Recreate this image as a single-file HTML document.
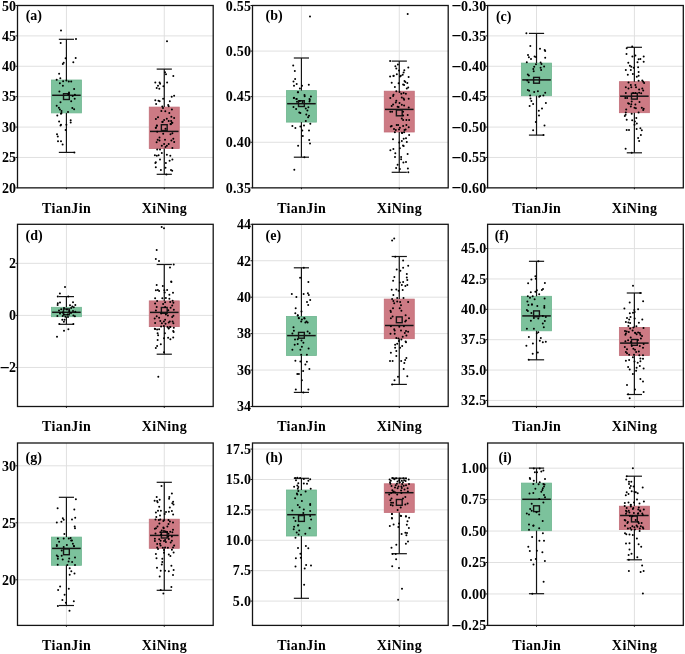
<!DOCTYPE html><html><head><meta charset="utf-8"><style>html,body{margin:0;padding:0;background:#fff;}svg{display:block;will-change:transform;}</style></head><body>
<svg width="685" height="654" viewBox="0 0 685 654" font-family='"Liberation Serif", serif' font-weight="bold">
<g><line x1="17.50" y1="157.46" x2="213.20" y2="157.46" stroke="#e0e0e0" stroke-width="1"/><line x1="17.50" y1="127.07" x2="213.20" y2="127.07" stroke="#e0e0e0" stroke-width="1"/><line x1="17.50" y1="96.67" x2="213.20" y2="96.67" stroke="#e0e0e0" stroke-width="1"/><line x1="17.50" y1="66.28" x2="213.20" y2="66.28" stroke="#e0e0e0" stroke-width="1"/><line x1="17.50" y1="35.89" x2="213.20" y2="35.89" stroke="#e0e0e0" stroke-width="1"/><line x1="66.42" y1="5.50" x2="66.42" y2="187.85" stroke="#e0e0e0" stroke-width="1"/><line x1="164.27" y1="5.50" x2="164.27" y2="187.85" stroke="#e0e0e0" stroke-width="1"/><rect x="51.42" y="80.00" width="30.00" height="32.90" fill="#7cc29c" stroke="#6fb690" stroke-width="0.8"/><line x1="66.42" y1="39.30" x2="66.42" y2="80.00" stroke="#141414" stroke-width="1.2"/><line x1="66.42" y1="112.90" x2="66.42" y2="152.40" stroke="#141414" stroke-width="1.2"/><line x1="58.82" y1="39.30" x2="74.02" y2="39.30" stroke="#141414" stroke-width="1.2"/><line x1="58.82" y1="152.40" x2="74.02" y2="152.40" stroke="#141414" stroke-width="1.2"/><line x1="52.12" y1="95.30" x2="80.72" y2="95.30" stroke="#141414" stroke-width="1.5"/><rect x="63.52" y="93.70" width="5.8" height="5.8" fill="none" stroke="#141414" stroke-width="1.4"/><g fill="#000"><circle cx="72.7" cy="96.0" r="1.0"/><circle cx="68.3" cy="94.3" r="1.0"/><circle cx="61.0" cy="30.5" r="1.0"/><circle cx="76.0" cy="39.1" r="1.0"/><circle cx="60.7" cy="42.9" r="1.0"/><circle cx="65.6" cy="58.2" r="1.0"/><circle cx="75.7" cy="58.1" r="1.0"/><circle cx="73.3" cy="62.2" r="1.0"/><circle cx="63.7" cy="62.7" r="1.0"/><circle cx="62.8" cy="64.1" r="1.0"/><circle cx="59.1" cy="73.7" r="1.0"/><circle cx="60.3" cy="78.2" r="1.0"/><circle cx="56.7" cy="79.8" r="1.0"/><circle cx="63.1" cy="81.2" r="1.0"/><circle cx="66.4" cy="80.4" r="1.0"/><circle cx="68.8" cy="81.4" r="1.0"/><circle cx="71.2" cy="81.4" r="1.0"/><circle cx="59.9" cy="83.3" r="1.0"/><circle cx="62.9" cy="85.7" r="1.0"/><circle cx="74.1" cy="88.9" r="1.0"/><circle cx="59.4" cy="91.4" r="1.0"/><circle cx="69.0" cy="92.4" r="1.0"/><circle cx="74.9" cy="94.8" r="1.0"/><circle cx="74.7" cy="98.8" r="1.0"/><circle cx="71.2" cy="101.3" r="1.0"/><circle cx="60.5" cy="102.3" r="1.0"/><circle cx="56.7" cy="105.8" r="1.0"/><circle cx="58.9" cy="107.7" r="1.0"/><circle cx="59.9" cy="109.5" r="1.0"/><circle cx="72.3" cy="108.0" r="1.0"/><circle cx="74.1" cy="109.3" r="1.0"/><circle cx="61.5" cy="111.1" r="1.0"/><circle cx="68.0" cy="112.0" r="1.0"/><circle cx="61.5" cy="113.0" r="1.0"/><circle cx="61.0" cy="113.8" r="1.0"/><circle cx="57.3" cy="115.4" r="1.0"/><circle cx="70.7" cy="120.2" r="1.0"/><circle cx="70.7" cy="122.5" r="1.0"/><circle cx="59.1" cy="121.4" r="1.0"/><circle cx="61.0" cy="124.8" r="1.0"/><circle cx="60.5" cy="125.4" r="1.0"/><circle cx="66.4" cy="124.8" r="1.0"/><circle cx="65.6" cy="129.9" r="1.0"/><circle cx="57.0" cy="134.3" r="1.0"/><circle cx="57.8" cy="136.4" r="1.0"/><circle cx="58.0" cy="141.2" r="1.0"/><circle cx="61.0" cy="141.2" r="1.0"/><circle cx="62.6" cy="144.4" r="1.0"/><circle cx="74.4" cy="152.4" r="1.0"/></g><rect x="149.27" y="107.10" width="30.00" height="41.40" fill="#cd7a84" stroke="#c26d78" stroke-width="0.8"/><line x1="164.27" y1="69.10" x2="164.27" y2="107.10" stroke="#141414" stroke-width="1.2"/><line x1="164.27" y1="148.50" x2="164.27" y2="174.30" stroke="#141414" stroke-width="1.2"/><line x1="156.67" y1="69.10" x2="171.87" y2="69.10" stroke="#141414" stroke-width="1.2"/><line x1="156.67" y1="174.30" x2="171.87" y2="174.30" stroke="#141414" stroke-width="1.2"/><line x1="149.97" y1="131.40" x2="178.57" y2="131.40" stroke="#141414" stroke-width="1.5"/><rect x="161.37" y="124.70" width="5.8" height="5.8" fill="none" stroke="#141414" stroke-width="1.4"/><g fill="#000"><circle cx="167.0" cy="41.2" r="1.0"/><circle cx="165.0" cy="72.3" r="1.0"/><circle cx="166.0" cy="74.3" r="1.0"/><circle cx="173.3" cy="76.1" r="1.0"/><circle cx="155.3" cy="82.5" r="1.0"/><circle cx="159.6" cy="82.5" r="1.0"/><circle cx="160.1" cy="83.8" r="1.0"/><circle cx="167.1" cy="82.5" r="1.0"/><circle cx="158.0" cy="85.7" r="1.0"/><circle cx="163.4" cy="86.3" r="1.0"/><circle cx="156.7" cy="88.1" r="1.0"/><circle cx="159.3" cy="88.7" r="1.0"/><circle cx="174.1" cy="95.7" r="1.0"/><circle cx="171.7" cy="96.7" r="1.0"/><circle cx="155.3" cy="100.2" r="1.0"/><circle cx="158.5" cy="100.7" r="1.0"/><circle cx="159.6" cy="101.3" r="1.0"/><circle cx="163.1" cy="98.8" r="1.0"/><circle cx="169.8" cy="101.3" r="1.0"/><circle cx="156.1" cy="103.9" r="1.0"/><circle cx="168.2" cy="105.0" r="1.0"/><circle cx="162.3" cy="106.6" r="1.0"/><circle cx="168.7" cy="106.3" r="1.0"/><circle cx="163.0" cy="108.0" r="1.0"/><circle cx="171.9" cy="109.5" r="1.0"/><circle cx="161.4" cy="110.9" r="1.0"/><circle cx="165.3" cy="111.2" r="1.0"/><circle cx="169.3" cy="113.1" r="1.0"/><circle cx="158.0" cy="117.3" r="1.0"/><circle cx="155.9" cy="119.0" r="1.0"/><circle cx="171.4" cy="116.8" r="1.0"/><circle cx="174.1" cy="117.9" r="1.0"/><circle cx="166.8" cy="118.7" r="1.0"/><circle cx="164.1" cy="120.0" r="1.0"/><circle cx="168.7" cy="121.1" r="1.0"/><circle cx="171.1" cy="120.9" r="1.0"/><circle cx="162.3" cy="122.0" r="1.0"/><circle cx="171.9" cy="122.7" r="1.0"/><circle cx="170.9" cy="124.3" r="1.0"/><circle cx="156.9" cy="125.4" r="1.0"/><circle cx="155.9" cy="127.7" r="1.0"/><circle cx="162.7" cy="121.8" r="1.0"/><circle cx="172.4" cy="122.8" r="1.0"/><circle cx="170.5" cy="124.1" r="1.0"/><circle cx="156.8" cy="125.7" r="1.0"/><circle cx="155.8" cy="127.8" r="1.0"/><circle cx="165.5" cy="128.7" r="1.0"/><circle cx="157.2" cy="131.7" r="1.0"/><circle cx="163.2" cy="133.8" r="1.0"/><circle cx="170.5" cy="134.2" r="1.0"/><circle cx="172.4" cy="133.3" r="1.0"/><circle cx="159.5" cy="137.4" r="1.0"/><circle cx="157.7" cy="139.7" r="1.0"/><circle cx="159.5" cy="140.6" r="1.0"/><circle cx="165.0" cy="139.7" r="1.0"/><circle cx="173.3" cy="138.8" r="1.0"/><circle cx="171.4" cy="140.6" r="1.0"/><circle cx="174.2" cy="142.0" r="1.0"/><circle cx="156.6" cy="142.2" r="1.0"/><circle cx="164.1" cy="143.9" r="1.0"/><circle cx="168.7" cy="143.9" r="1.0"/><circle cx="161.8" cy="145.7" r="1.0"/><circle cx="166.9" cy="145.7" r="1.0"/><circle cx="165.5" cy="147.1" r="1.0"/><circle cx="172.4" cy="148.0" r="1.0"/><circle cx="157.2" cy="149.4" r="1.0"/><circle cx="160.0" cy="149.4" r="1.0"/><circle cx="161.8" cy="153.0" r="1.0"/><circle cx="158.6" cy="155.3" r="1.0"/><circle cx="154.9" cy="155.3" r="1.0"/><circle cx="156.8" cy="155.8" r="1.0"/><circle cx="166.9" cy="154.7" r="1.0"/><circle cx="170.3" cy="155.8" r="1.0"/><circle cx="160.0" cy="159.4" r="1.0"/><circle cx="169.6" cy="160.8" r="1.0"/><circle cx="172.4" cy="159.4" r="1.0"/><circle cx="155.8" cy="162.2" r="1.0"/><circle cx="155.4" cy="163.1" r="1.0"/><circle cx="165.9" cy="163.1" r="1.0"/><circle cx="155.8" cy="167.2" r="1.0"/><circle cx="165.5" cy="167.7" r="1.0"/><circle cx="160.9" cy="170.0" r="1.0"/><circle cx="171.0" cy="170.0" r="1.0"/><circle cx="172.2" cy="170.7" r="1.0"/><circle cx="166.4" cy="174.6" r="1.0"/></g><rect x="17.50" y="5.50" width="195.70" height="182.35" fill="none" stroke="#141414" stroke-width="1.3"/><line x1="66.42" y1="187.85" x2="66.42" y2="189.25" stroke="#141414" stroke-width="1"/><line x1="164.27" y1="187.85" x2="164.27" y2="189.25" stroke="#141414" stroke-width="1"/><line x1="15.50" y1="187.85" x2="17.50" y2="187.85" stroke="#141414" stroke-width="1"/><text x="16.10" y="192.65" font-size="14" text-anchor="end">20</text><line x1="15.50" y1="157.46" x2="17.50" y2="157.46" stroke="#141414" stroke-width="1"/><text x="16.10" y="162.26" font-size="14" text-anchor="end">25</text><line x1="15.50" y1="127.07" x2="17.50" y2="127.07" stroke="#141414" stroke-width="1"/><text x="16.10" y="131.87" font-size="14" text-anchor="end">30</text><line x1="15.50" y1="96.67" x2="17.50" y2="96.67" stroke="#141414" stroke-width="1"/><text x="16.10" y="101.47" font-size="14" text-anchor="end">35</text><line x1="15.50" y1="66.28" x2="17.50" y2="66.28" stroke="#141414" stroke-width="1"/><text x="16.10" y="71.08" font-size="14" text-anchor="end">40</text><line x1="15.50" y1="35.89" x2="17.50" y2="35.89" stroke="#141414" stroke-width="1"/><text x="16.10" y="40.69" font-size="14" text-anchor="end">45</text><line x1="15.50" y1="5.50" x2="17.50" y2="5.50" stroke="#141414" stroke-width="1"/><text x="16.10" y="10.80" font-size="14" text-anchor="end">50</text><text x="25.70" y="19.70" font-size="14">(a)</text><text x="66.42" y="212.65" font-size="14" text-anchor="middle" textLength="48.6" lengthAdjust="spacing">TianJin</text><text x="164.27" y="212.65" font-size="14" text-anchor="middle" textLength="45.2" lengthAdjust="spacing">XiNing</text></g>
<g><line x1="252.50" y1="142.26" x2="448.20" y2="142.26" stroke="#e0e0e0" stroke-width="1"/><line x1="252.50" y1="96.67" x2="448.20" y2="96.67" stroke="#e0e0e0" stroke-width="1"/><line x1="252.50" y1="51.09" x2="448.20" y2="51.09" stroke="#e0e0e0" stroke-width="1"/><line x1="301.43" y1="5.50" x2="301.43" y2="187.85" stroke="#e0e0e0" stroke-width="1"/><line x1="399.27" y1="5.50" x2="399.27" y2="187.85" stroke="#e0e0e0" stroke-width="1"/><rect x="286.43" y="90.60" width="30.00" height="31.50" fill="#7cc29c" stroke="#6fb690" stroke-width="0.8"/><line x1="301.43" y1="58.00" x2="301.43" y2="90.60" stroke="#141414" stroke-width="1.2"/><line x1="301.43" y1="122.10" x2="301.43" y2="157.20" stroke="#141414" stroke-width="1.2"/><line x1="293.82" y1="58.00" x2="309.03" y2="58.00" stroke="#141414" stroke-width="1.2"/><line x1="293.82" y1="157.20" x2="309.03" y2="157.20" stroke="#141414" stroke-width="1.2"/><line x1="287.12" y1="103.70" x2="315.73" y2="103.70" stroke="#141414" stroke-width="1.5"/><rect x="298.53" y="100.70" width="5.8" height="5.8" fill="none" stroke="#141414" stroke-width="1.4"/><g fill="#000"><circle cx="297.8" cy="92.2" r="1.0"/><circle cx="293.8" cy="97.9" r="1.0"/><circle cx="296.4" cy="99.0" r="1.0"/><circle cx="309.5" cy="99.0" r="1.0"/><circle cx="297.0" cy="101.7" r="1.0"/><circle cx="299.9" cy="101.1" r="1.0"/><circle cx="310.0" cy="16.5" r="1.0"/><circle cx="293.2" cy="65.4" r="1.0"/><circle cx="294.8" cy="71.0" r="1.0"/><circle cx="295.1" cy="79.1" r="1.0"/><circle cx="293.5" cy="81.5" r="1.0"/><circle cx="296.7" cy="83.9" r="1.0"/><circle cx="294.0" cy="85.8" r="1.0"/><circle cx="302.0" cy="85.8" r="1.0"/><circle cx="308.8" cy="84.8" r="1.0"/><circle cx="299.9" cy="88.4" r="1.0"/><circle cx="298.1" cy="92.2" r="1.0"/><circle cx="304.5" cy="95.1" r="1.0"/><circle cx="304.7" cy="96.2" r="1.0"/><circle cx="310.9" cy="96.4" r="1.0"/><circle cx="294.0" cy="97.8" r="1.0"/><circle cx="296.7" cy="98.9" r="1.0"/><circle cx="309.8" cy="100.0" r="1.0"/><circle cx="309.5" cy="101.6" r="1.0"/><circle cx="302.6" cy="101.9" r="1.0"/><circle cx="293.5" cy="106.9" r="1.0"/><circle cx="308.4" cy="107.2" r="1.0"/><circle cx="305.8" cy="108.5" r="1.0"/><circle cx="296.1" cy="109.1" r="1.0"/><circle cx="307.4" cy="110.6" r="1.0"/><circle cx="299.3" cy="112.5" r="1.0"/><circle cx="300.4" cy="113.0" r="1.0"/><circle cx="306.3" cy="114.4" r="1.0"/><circle cx="309.0" cy="115.7" r="1.0"/><circle cx="308.1" cy="117.3" r="1.0"/><circle cx="305.8" cy="121.1" r="1.0"/><circle cx="310.3" cy="123.7" r="1.0"/><circle cx="292.4" cy="125.9" r="1.0"/><circle cx="295.4" cy="128.0" r="1.0"/><circle cx="300.4" cy="126.4" r="1.0"/><circle cx="304.0" cy="125.6" r="1.0"/><circle cx="302.3" cy="130.4" r="1.0"/><circle cx="309.0" cy="130.4" r="1.0"/><circle cx="302.8" cy="136.0" r="1.0"/><circle cx="309.2" cy="140.1" r="1.0"/><circle cx="310.0" cy="143.5" r="1.0"/><circle cx="298.1" cy="145.7" r="1.0"/><circle cx="304.4" cy="157.2" r="1.0"/><circle cx="294.3" cy="169.8" r="1.0"/></g><rect x="384.27" y="91.20" width="30.00" height="40.80" fill="#cd7a84" stroke="#c26d78" stroke-width="0.8"/><line x1="399.27" y1="61.10" x2="399.27" y2="91.20" stroke="#141414" stroke-width="1.2"/><line x1="399.27" y1="132.00" x2="399.27" y2="172.30" stroke="#141414" stroke-width="1.2"/><line x1="391.67" y1="61.10" x2="406.88" y2="61.10" stroke="#141414" stroke-width="1.2"/><line x1="391.67" y1="172.30" x2="406.88" y2="172.30" stroke="#141414" stroke-width="1.2"/><line x1="384.97" y1="109.40" x2="413.57" y2="109.40" stroke="#141414" stroke-width="1.5"/><rect x="396.38" y="110.00" width="5.8" height="5.8" fill="none" stroke="#141414" stroke-width="1.4"/><g fill="#000"><circle cx="407.7" cy="14.0" r="1.0"/><circle cx="390.1" cy="61.1" r="1.0"/><circle cx="397.9" cy="64.4" r="1.0"/><circle cx="395.4" cy="66.2" r="1.0"/><circle cx="396.3" cy="68.4" r="1.0"/><circle cx="408.3" cy="67.6" r="1.0"/><circle cx="399.0" cy="70.5" r="1.0"/><circle cx="404.3" cy="70.2" r="1.0"/><circle cx="403.6" cy="72.6" r="1.0"/><circle cx="402.7" cy="74.8" r="1.0"/><circle cx="396.8" cy="74.2" r="1.0"/><circle cx="393.6" cy="75.8" r="1.0"/><circle cx="390.1" cy="76.6" r="1.0"/><circle cx="400.0" cy="76.4" r="1.0"/><circle cx="408.6" cy="76.9" r="1.0"/><circle cx="393.5" cy="75.9" r="1.0"/><circle cx="400.9" cy="75.7" r="1.0"/><circle cx="391.7" cy="82.8" r="1.0"/><circle cx="398.6" cy="83.3" r="1.0"/><circle cx="404.5" cy="81.0" r="1.0"/><circle cx="405.4" cy="81.9" r="1.0"/><circle cx="407.3" cy="83.1" r="1.0"/><circle cx="403.1" cy="84.6" r="1.0"/><circle cx="404.1" cy="85.1" r="1.0"/><circle cx="394.9" cy="86.9" r="1.0"/><circle cx="408.2" cy="87.4" r="1.0"/><circle cx="406.8" cy="88.6" r="1.0"/><circle cx="396.3" cy="91.3" r="1.0"/><circle cx="399.5" cy="92.0" r="1.0"/><circle cx="401.3" cy="93.8" r="1.0"/><circle cx="403.6" cy="92.9" r="1.0"/><circle cx="405.9" cy="93.8" r="1.0"/><circle cx="393.5" cy="94.7" r="1.0"/><circle cx="393.1" cy="96.1" r="1.0"/><circle cx="390.3" cy="97.9" r="1.0"/><circle cx="401.8" cy="97.5" r="1.0"/><circle cx="403.6" cy="98.4" r="1.0"/><circle cx="404.1" cy="99.8" r="1.0"/><circle cx="408.7" cy="98.7" r="1.0"/><circle cx="396.3" cy="100.7" r="1.0"/><circle cx="395.8" cy="102.5" r="1.0"/><circle cx="399.5" cy="103.0" r="1.0"/><circle cx="401.8" cy="104.8" r="1.0"/><circle cx="404.1" cy="105.5" r="1.0"/><circle cx="393.1" cy="104.4" r="1.0"/><circle cx="391.7" cy="106.0" r="1.0"/><circle cx="397.6" cy="106.7" r="1.0"/><circle cx="398.6" cy="107.1" r="1.0"/><circle cx="408.7" cy="107.6" r="1.0"/><circle cx="390.3" cy="111.7" r="1.0"/><circle cx="392.1" cy="111.7" r="1.0"/><circle cx="403.1" cy="111.7" r="1.0"/><circle cx="403.1" cy="115.4" r="1.0"/><circle cx="407.7" cy="114.9" r="1.0"/><circle cx="401.8" cy="118.6" r="1.0"/><circle cx="403.1" cy="120.0" r="1.0"/><circle cx="406.4" cy="120.1" r="1.0"/><circle cx="409.1" cy="120.1" r="1.0"/><circle cx="390.8" cy="126.4" r="1.0"/><circle cx="391.7" cy="125.9" r="1.0"/><circle cx="396.7" cy="125.0" r="1.0"/><circle cx="398.1" cy="125.0" r="1.0"/><circle cx="403.1" cy="125.9" r="1.0"/><circle cx="406.4" cy="125.0" r="1.0"/><circle cx="408.7" cy="127.3" r="1.0"/><circle cx="399.9" cy="127.8" r="1.0"/><circle cx="394.0" cy="129.1" r="1.0"/><circle cx="395.8" cy="129.9" r="1.0"/><circle cx="399.0" cy="129.6" r="1.0"/><circle cx="404.5" cy="130.0" r="1.0"/><circle cx="394.9" cy="132.3" r="1.0"/><circle cx="401.8" cy="132.8" r="1.0"/><circle cx="405.6" cy="129.5" r="1.0"/><circle cx="402.2" cy="133.0" r="1.0"/><circle cx="404.1" cy="132.2" r="1.0"/><circle cx="409.1" cy="134.9" r="1.0"/><circle cx="393.0" cy="139.3" r="1.0"/><circle cx="403.7" cy="138.7" r="1.0"/><circle cx="406.0" cy="138.3" r="1.0"/><circle cx="401.8" cy="141.1" r="1.0"/><circle cx="406.8" cy="142.1" r="1.0"/><circle cx="399.2" cy="142.4" r="1.0"/><circle cx="403.0" cy="145.6" r="1.0"/><circle cx="403.7" cy="146.0" r="1.0"/><circle cx="399.9" cy="148.2" r="1.0"/><circle cx="390.4" cy="150.2" r="1.0"/><circle cx="393.4" cy="149.0" r="1.0"/><circle cx="395.3" cy="153.2" r="1.0"/><circle cx="407.6" cy="154.0" r="1.0"/><circle cx="395.0" cy="157.0" r="1.0"/><circle cx="401.1" cy="157.0" r="1.0"/><circle cx="401.1" cy="159.3" r="1.0"/><circle cx="403.4" cy="162.4" r="1.0"/><circle cx="406.0" cy="162.0" r="1.0"/><circle cx="397.6" cy="164.7" r="1.0"/><circle cx="396.1" cy="168.1" r="1.0"/><circle cx="399.9" cy="168.9" r="1.0"/><circle cx="407.9" cy="168.6" r="1.0"/><circle cx="408.3" cy="172.3" r="1.0"/></g><rect x="252.50" y="5.50" width="195.70" height="182.35" fill="none" stroke="#141414" stroke-width="1.3"/><line x1="301.43" y1="187.85" x2="301.43" y2="189.25" stroke="#141414" stroke-width="1"/><line x1="399.27" y1="187.85" x2="399.27" y2="189.25" stroke="#141414" stroke-width="1"/><line x1="250.50" y1="187.85" x2="252.50" y2="187.85" stroke="#141414" stroke-width="1"/><text x="251.10" y="192.65" font-size="14" text-anchor="end" textLength="25.30" lengthAdjust="spacing">0.35</text><line x1="250.50" y1="142.26" x2="252.50" y2="142.26" stroke="#141414" stroke-width="1"/><text x="251.10" y="147.06" font-size="14" text-anchor="end" textLength="25.30" lengthAdjust="spacing">0.40</text><line x1="250.50" y1="96.67" x2="252.50" y2="96.67" stroke="#141414" stroke-width="1"/><text x="251.10" y="101.47" font-size="14" text-anchor="end" textLength="25.30" lengthAdjust="spacing">0.45</text><line x1="250.50" y1="51.09" x2="252.50" y2="51.09" stroke="#141414" stroke-width="1"/><text x="251.10" y="55.89" font-size="14" text-anchor="end" textLength="25.30" lengthAdjust="spacing">0.50</text><line x1="250.50" y1="5.50" x2="252.50" y2="5.50" stroke="#141414" stroke-width="1"/><text x="251.10" y="10.80" font-size="14" text-anchor="end" textLength="25.30" lengthAdjust="spacing">0.55</text><text x="265.50" y="19.70" font-size="14">(b)</text><text x="301.43" y="212.65" font-size="14" text-anchor="middle" textLength="48.6" lengthAdjust="spacing">TianJin</text><text x="399.27" y="212.65" font-size="14" text-anchor="middle" textLength="45.2" lengthAdjust="spacing">XiNing</text></g>
<g><line x1="487.60" y1="157.46" x2="683.30" y2="157.46" stroke="#e0e0e0" stroke-width="1"/><line x1="487.60" y1="127.07" x2="683.30" y2="127.07" stroke="#e0e0e0" stroke-width="1"/><line x1="487.60" y1="96.68" x2="683.30" y2="96.68" stroke="#e0e0e0" stroke-width="1"/><line x1="487.60" y1="66.28" x2="683.30" y2="66.28" stroke="#e0e0e0" stroke-width="1"/><line x1="487.60" y1="35.89" x2="683.30" y2="35.89" stroke="#e0e0e0" stroke-width="1"/><line x1="536.52" y1="5.50" x2="536.52" y2="187.85" stroke="#e0e0e0" stroke-width="1"/><line x1="634.38" y1="5.50" x2="634.38" y2="187.85" stroke="#e0e0e0" stroke-width="1"/><rect x="521.52" y="63.10" width="30.00" height="32.60" fill="#7cc29c" stroke="#6fb690" stroke-width="0.8"/><line x1="536.52" y1="33.40" x2="536.52" y2="63.10" stroke="#141414" stroke-width="1.2"/><line x1="536.52" y1="95.70" x2="536.52" y2="135.10" stroke="#141414" stroke-width="1.2"/><line x1="528.92" y1="33.40" x2="544.12" y2="33.40" stroke="#141414" stroke-width="1.2"/><line x1="528.92" y1="135.10" x2="544.12" y2="135.10" stroke="#141414" stroke-width="1.2"/><line x1="522.23" y1="79.90" x2="550.82" y2="79.90" stroke="#141414" stroke-width="1.5"/><rect x="533.62" y="77.40" width="5.8" height="5.8" fill="none" stroke="#141414" stroke-width="1.4"/><g fill="#000"><circle cx="526.4" cy="33.3" r="1.0"/><circle cx="530.3" cy="45.9" r="1.0"/><circle cx="540.0" cy="48.7" r="1.0"/><circle cx="544.7" cy="50.0" r="1.0"/><circle cx="545.2" cy="50.9" r="1.0"/><circle cx="528.0" cy="55.1" r="1.0"/><circle cx="528.9" cy="57.3" r="1.0"/><circle cx="531.0" cy="59.1" r="1.0"/><circle cx="534.6" cy="56.4" r="1.0"/><circle cx="536.0" cy="57.1" r="1.0"/><circle cx="545.2" cy="57.8" r="1.0"/><circle cx="526.8" cy="62.2" r="1.0"/><circle cx="540.6" cy="62.6" r="1.0"/><circle cx="541.5" cy="64.0" r="1.0"/><circle cx="536.0" cy="64.3" r="1.0"/><circle cx="534.2" cy="66.7" r="1.0"/><circle cx="533.3" cy="69.0" r="1.0"/><circle cx="533.7" cy="71.3" r="1.0"/><circle cx="540.6" cy="67.7" r="1.0"/><circle cx="541.1" cy="70.0" r="1.0"/><circle cx="544.1" cy="66.5" r="1.0"/><circle cx="527.8" cy="74.5" r="1.0"/><circle cx="528.9" cy="75.5" r="1.0"/><circle cx="527.3" cy="80.5" r="1.0"/><circle cx="528.7" cy="82.3" r="1.0"/><circle cx="527.8" cy="89.9" r="1.0"/><circle cx="529.1" cy="90.8" r="1.0"/><circle cx="534.2" cy="91.9" r="1.0"/><circle cx="537.9" cy="91.3" r="1.0"/><circle cx="545.2" cy="92.7" r="1.0"/><circle cx="530.1" cy="95.4" r="1.0"/><circle cx="530.5" cy="98.4" r="1.0"/><circle cx="531.4" cy="101.1" r="1.0"/><circle cx="539.2" cy="96.8" r="1.0"/><circle cx="540.1" cy="95.9" r="1.0"/><circle cx="543.4" cy="95.6" r="1.0"/><circle cx="545.9" cy="103.0" r="1.0"/><circle cx="533.1" cy="104.1" r="1.0"/><circle cx="529.6" cy="106.0" r="1.0"/><circle cx="542.0" cy="108.5" r="1.0"/><circle cx="538.8" cy="110.8" r="1.0"/><circle cx="539.0" cy="115.6" r="1.0"/><circle cx="535.8" cy="122.0" r="1.0"/><circle cx="544.5" cy="125.5" r="1.0"/><circle cx="533.1" cy="130.3" r="1.0"/><circle cx="543.5" cy="135.1" r="1.0"/></g><rect x="619.38" y="81.70" width="30.00" height="31.00" fill="#cd7a84" stroke="#c26d78" stroke-width="0.8"/><line x1="634.38" y1="47.30" x2="634.38" y2="81.70" stroke="#141414" stroke-width="1.2"/><line x1="634.38" y1="112.70" x2="634.38" y2="152.80" stroke="#141414" stroke-width="1.2"/><line x1="626.77" y1="47.30" x2="641.98" y2="47.30" stroke="#141414" stroke-width="1.2"/><line x1="626.77" y1="152.80" x2="641.98" y2="152.80" stroke="#141414" stroke-width="1.2"/><line x1="620.08" y1="96.20" x2="648.67" y2="96.20" stroke="#141414" stroke-width="1.5"/><rect x="631.48" y="93.30" width="5.8" height="5.8" fill="none" stroke="#141414" stroke-width="1.4"/><g fill="#000"><circle cx="626.7" cy="48.3" r="1.0"/><circle cx="632.2" cy="46.6" r="1.0"/><circle cx="626.5" cy="53.9" r="1.0"/><circle cx="632.4" cy="56.5" r="1.0"/><circle cx="635.4" cy="55.4" r="1.0"/><circle cx="643.7" cy="56.5" r="1.0"/><circle cx="638.6" cy="59.3" r="1.0"/><circle cx="640.4" cy="59.1" r="1.0"/><circle cx="643.7" cy="61.7" r="1.0"/><circle cx="628.3" cy="62.8" r="1.0"/><circle cx="637.5" cy="62.2" r="1.0"/><circle cx="629.9" cy="65.7" r="1.0"/><circle cx="631.3" cy="66.8" r="1.0"/><circle cx="633.7" cy="67.7" r="1.0"/><circle cx="638.1" cy="67.3" r="1.0"/><circle cx="625.8" cy="70.1" r="1.0"/><circle cx="630.8" cy="70.1" r="1.0"/><circle cx="638.6" cy="72.1" r="1.0"/><circle cx="627.8" cy="74.7" r="1.0"/><circle cx="632.9" cy="73.9" r="1.0"/><circle cx="636.8" cy="76.7" r="1.0"/><circle cx="638.6" cy="75.8" r="1.0"/><circle cx="638.6" cy="80.8" r="1.0"/><circle cx="642.3" cy="80.4" r="1.0"/><circle cx="643.2" cy="81.7" r="1.0"/><circle cx="644.1" cy="83.1" r="1.0"/><circle cx="628.5" cy="82.4" r="1.0"/><circle cx="630.8" cy="85.0" r="1.0"/><circle cx="631.3" cy="87.2" r="1.0"/><circle cx="635.4" cy="85.0" r="1.0"/><circle cx="636.0" cy="87.2" r="1.0"/><circle cx="625.8" cy="87.2" r="1.0"/><circle cx="628.5" cy="88.6" r="1.0"/><circle cx="639.1" cy="89.5" r="1.0"/><circle cx="642.3" cy="88.6" r="1.0"/><circle cx="643.2" cy="90.5" r="1.0"/><circle cx="625.8" cy="93.0" r="1.0"/><circle cx="633.1" cy="93.0" r="1.0"/><circle cx="635.4" cy="93.0" r="1.0"/><circle cx="639.1" cy="92.8" r="1.0"/><circle cx="641.2" cy="93.2" r="1.0"/><circle cx="625.3" cy="98.0" r="1.0"/><circle cx="627.1" cy="98.0" r="1.0"/><circle cx="639.5" cy="101.9" r="1.0"/><circle cx="631.7" cy="101.4" r="1.0"/><circle cx="628.1" cy="103.3" r="1.0"/><circle cx="629.0" cy="103.7" r="1.0"/><circle cx="631.3" cy="104.2" r="1.0"/><circle cx="635.4" cy="104.6" r="1.0"/><circle cx="630.8" cy="106.5" r="1.0"/><circle cx="634.5" cy="107.7" r="1.0"/><circle cx="635.9" cy="108.3" r="1.0"/><circle cx="641.8" cy="107.8" r="1.0"/><circle cx="643.7" cy="108.8" r="1.0"/><circle cx="643.2" cy="110.1" r="1.0"/><circle cx="626.2" cy="109.5" r="1.0"/><circle cx="625.8" cy="112.4" r="1.0"/><circle cx="631.7" cy="113.8" r="1.0"/><circle cx="638.6" cy="112.6" r="1.0"/><circle cx="625.6" cy="114.7" r="1.0"/><circle cx="624.8" cy="116.1" r="1.0"/><circle cx="636.3" cy="117.9" r="1.0"/><circle cx="626.7" cy="119.8" r="1.0"/><circle cx="632.2" cy="120.2" r="1.0"/><circle cx="634.9" cy="121.6" r="1.0"/><circle cx="636.8" cy="123.4" r="1.0"/><circle cx="634.5" cy="124.8" r="1.0"/><circle cx="626.7" cy="129.9" r="1.0"/><circle cx="629.0" cy="129.9" r="1.0"/><circle cx="636.6" cy="129.1" r="1.0"/><circle cx="640.4" cy="128.2" r="1.0"/><circle cx="641.8" cy="130.3" r="1.0"/><circle cx="640.9" cy="134.9" r="1.0"/><circle cx="638.1" cy="137.9" r="1.0"/><circle cx="639.1" cy="140.9" r="1.0"/><circle cx="625.6" cy="148.7" r="1.0"/><circle cx="631.7" cy="152.8" r="1.0"/></g><rect x="487.60" y="5.50" width="195.70" height="182.35" fill="none" stroke="#141414" stroke-width="1.3"/><line x1="536.52" y1="187.85" x2="536.52" y2="189.25" stroke="#141414" stroke-width="1"/><line x1="634.38" y1="187.85" x2="634.38" y2="189.25" stroke="#141414" stroke-width="1"/><line x1="485.60" y1="187.85" x2="487.60" y2="187.85" stroke="#141414" stroke-width="1"/><text x="486.20" y="192.65" font-size="14" text-anchor="end" textLength="25.30" lengthAdjust="spacing">0.60</text><rect x="452.40" y="187.00" width="8.2" height="1.25" fill="#000"/><line x1="485.60" y1="157.46" x2="487.60" y2="157.46" stroke="#141414" stroke-width="1"/><text x="486.20" y="162.26" font-size="14" text-anchor="end" textLength="25.30" lengthAdjust="spacing">0.55</text><rect x="452.40" y="157.00" width="8.2" height="1.25" fill="#000"/><line x1="485.60" y1="127.07" x2="487.60" y2="127.07" stroke="#141414" stroke-width="1"/><text x="486.20" y="131.87" font-size="14" text-anchor="end" textLength="25.30" lengthAdjust="spacing">0.50</text><rect x="452.40" y="127.00" width="8.2" height="1.25" fill="#000"/><line x1="485.60" y1="96.68" x2="487.60" y2="96.68" stroke="#141414" stroke-width="1"/><text x="486.20" y="101.48" font-size="14" text-anchor="end" textLength="25.30" lengthAdjust="spacing">0.45</text><rect x="452.40" y="96.00" width="8.2" height="1.25" fill="#000"/><line x1="485.60" y1="66.28" x2="487.60" y2="66.28" stroke="#141414" stroke-width="1"/><text x="486.20" y="71.08" font-size="14" text-anchor="end" textLength="25.30" lengthAdjust="spacing">0.40</text><rect x="452.40" y="66.00" width="8.2" height="1.25" fill="#000"/><line x1="485.60" y1="35.89" x2="487.60" y2="35.89" stroke="#141414" stroke-width="1"/><text x="486.20" y="40.69" font-size="14" text-anchor="end" textLength="25.30" lengthAdjust="spacing">0.35</text><rect x="452.40" y="35.00" width="8.2" height="1.25" fill="#000"/><line x1="485.60" y1="5.50" x2="487.60" y2="5.50" stroke="#141414" stroke-width="1"/><text x="486.20" y="10.80" font-size="14" text-anchor="end" textLength="25.30" lengthAdjust="spacing">0.30</text><rect x="452.40" y="5.00" width="8.2" height="1.25" fill="#000"/><text x="495.90" y="20.80" font-size="14">(c)</text><text x="536.52" y="212.65" font-size="14" text-anchor="middle" textLength="48.6" lengthAdjust="spacing">TianJin</text><text x="634.38" y="212.65" font-size="14" text-anchor="middle" textLength="45.2" lengthAdjust="spacing">XiNing</text></g>
<g><line x1="17.50" y1="367.46" x2="213.20" y2="367.46" stroke="#e0e0e0" stroke-width="1"/><line x1="17.50" y1="315.40" x2="213.20" y2="315.40" stroke="#e0e0e0" stroke-width="1"/><line x1="17.50" y1="263.34" x2="213.20" y2="263.34" stroke="#e0e0e0" stroke-width="1"/><line x1="66.42" y1="224.30" x2="66.42" y2="406.50" stroke="#e0e0e0" stroke-width="1"/><line x1="164.27" y1="224.30" x2="164.27" y2="406.50" stroke="#e0e0e0" stroke-width="1"/><rect x="51.42" y="307.30" width="30.00" height="9.40" fill="#7cc29c" stroke="#6fb690" stroke-width="0.8"/><line x1="66.42" y1="296.60" x2="66.42" y2="307.30" stroke="#141414" stroke-width="1.2"/><line x1="66.42" y1="316.70" x2="66.42" y2="324.30" stroke="#141414" stroke-width="1.2"/><line x1="58.82" y1="296.60" x2="74.02" y2="296.60" stroke="#141414" stroke-width="1.2"/><line x1="58.82" y1="324.30" x2="74.02" y2="324.30" stroke="#141414" stroke-width="1.2"/><line x1="52.12" y1="312.30" x2="80.72" y2="312.30" stroke="#141414" stroke-width="1.5"/><rect x="63.52" y="309.00" width="5.8" height="5.8" fill="none" stroke="#141414" stroke-width="1.4"/><g fill="#000"><circle cx="65.0" cy="286.9" r="1.0"/><circle cx="59.9" cy="293.6" r="1.0"/><circle cx="57.8" cy="296.6" r="1.0"/><circle cx="68.3" cy="296.6" r="1.0"/><circle cx="60.0" cy="302.4" r="1.0"/><circle cx="57.8" cy="303.3" r="1.0"/><circle cx="57.6" cy="305.0" r="1.0"/><circle cx="73.0" cy="302.2" r="1.0"/><circle cx="75.3" cy="305.0" r="1.0"/><circle cx="70.0" cy="305.2" r="1.0"/><circle cx="72.3" cy="306.4" r="1.0"/><circle cx="73.8" cy="307.2" r="1.0"/><circle cx="71.1" cy="307.9" r="1.0"/><circle cx="61.2" cy="309.3" r="1.0"/><circle cx="66.9" cy="309.4" r="1.0"/><circle cx="69.2" cy="311.0" r="1.0"/><circle cx="73.0" cy="311.0" r="1.0"/><circle cx="75.3" cy="311.7" r="1.0"/><circle cx="62.7" cy="312.5" r="1.0"/><circle cx="60.0" cy="313.6" r="1.0"/><circle cx="63.9" cy="314.4" r="1.0"/><circle cx="67.7" cy="314.4" r="1.0"/><circle cx="57.4" cy="315.9" r="1.0"/><circle cx="73.4" cy="315.6" r="1.0"/><circle cx="74.9" cy="316.3" r="1.0"/><circle cx="62.7" cy="315.9" r="1.0"/><circle cx="65.4" cy="316.7" r="1.0"/><circle cx="62.3" cy="319.8" r="1.0"/><circle cx="64.6" cy="319.8" r="1.0"/><circle cx="63.9" cy="321.7" r="1.0"/><circle cx="59.3" cy="324.0" r="1.0"/><circle cx="73.4" cy="324.0" r="1.0"/><circle cx="68.4" cy="329.2" r="1.0"/><circle cx="64.0" cy="330.7" r="1.0"/><circle cx="57.0" cy="336.8" r="1.0"/><circle cx="59.0" cy="310.5" r="1.0"/><circle cx="71.0" cy="313.0" r="1.0"/><circle cx="64.0" cy="308.0" r="1.0"/><circle cx="68.0" cy="317.0" r="1.0"/></g><rect x="149.27" y="300.90" width="30.00" height="25.70" fill="#cd7a84" stroke="#c26d78" stroke-width="0.8"/><line x1="164.27" y1="264.50" x2="164.27" y2="300.90" stroke="#141414" stroke-width="1.2"/><line x1="164.27" y1="326.60" x2="164.27" y2="354.20" stroke="#141414" stroke-width="1.2"/><line x1="156.67" y1="264.50" x2="171.87" y2="264.50" stroke="#141414" stroke-width="1.2"/><line x1="156.67" y1="354.20" x2="171.87" y2="354.20" stroke="#141414" stroke-width="1.2"/><line x1="149.97" y1="312.40" x2="178.57" y2="312.40" stroke="#141414" stroke-width="1.5"/><rect x="161.37" y="307.50" width="5.8" height="5.8" fill="none" stroke="#141414" stroke-width="1.4"/><g fill="#000"><circle cx="161.7" cy="227.0" r="1.0"/><circle cx="164.0" cy="228.2" r="1.0"/><circle cx="156.7" cy="250.0" r="1.0"/><circle cx="155.8" cy="259.0" r="1.0"/><circle cx="159.0" cy="261.0" r="1.0"/><circle cx="173.7" cy="264.4" r="1.0"/><circle cx="170.0" cy="267.4" r="1.0"/><circle cx="171.2" cy="281.6" r="1.0"/><circle cx="171.4" cy="282.1" r="1.0"/><circle cx="156.7" cy="285.0" r="1.0"/><circle cx="162.8" cy="286.1" r="1.0"/><circle cx="155.9" cy="290.3" r="1.0"/><circle cx="157.9" cy="289.9" r="1.0"/><circle cx="159.1" cy="291.1" r="1.0"/><circle cx="164.3" cy="290.3" r="1.0"/><circle cx="167.1" cy="290.1" r="1.0"/><circle cx="173.0" cy="292.7" r="1.0"/><circle cx="164.7" cy="292.5" r="1.0"/><circle cx="169.4" cy="294.7" r="1.0"/><circle cx="155.1" cy="298.3" r="1.0"/><circle cx="162.3" cy="298.3" r="1.0"/><circle cx="165.9" cy="297.9" r="1.0"/><circle cx="169.4" cy="298.8" r="1.0"/><circle cx="157.1" cy="301.1" r="1.0"/><circle cx="172.6" cy="300.7" r="1.0"/><circle cx="170.2" cy="301.9" r="1.0"/><circle cx="173.4" cy="302.7" r="1.0"/><circle cx="165.1" cy="302.3" r="1.0"/><circle cx="163.1" cy="303.9" r="1.0"/><circle cx="155.1" cy="303.5" r="1.0"/><circle cx="172.2" cy="305.4" r="1.0"/><circle cx="156.7" cy="307.0" r="1.0"/><circle cx="165.1" cy="307.0" r="1.0"/><circle cx="170.6" cy="307.8" r="1.0"/><circle cx="173.8" cy="309.8" r="1.0"/><circle cx="155.9" cy="310.6" r="1.0"/><circle cx="168.3" cy="310.2" r="1.0"/><circle cx="161.1" cy="313.4" r="1.0"/><circle cx="165.9" cy="314.6" r="1.0"/><circle cx="167.9" cy="315.4" r="1.0"/><circle cx="156.7" cy="316.2" r="1.0"/><circle cx="173.4" cy="315.8" r="1.0"/><circle cx="159.1" cy="317.8" r="1.0"/><circle cx="154.7" cy="318.6" r="1.0"/><circle cx="172.2" cy="317.0" r="1.0"/><circle cx="165.1" cy="319.8" r="1.0"/><circle cx="163.9" cy="321.4" r="1.0"/><circle cx="160.3" cy="321.0" r="1.0"/><circle cx="169.8" cy="321.4" r="1.0"/><circle cx="168.7" cy="322.6" r="1.0"/><circle cx="172.6" cy="321.4" r="1.0"/><circle cx="155.1" cy="323.0" r="1.0"/><circle cx="161.9" cy="323.3" r="1.0"/><circle cx="165.5" cy="323.7" r="1.0"/><circle cx="173.4" cy="323.3" r="1.0"/><circle cx="161.1" cy="326.5" r="1.0"/><circle cx="163.9" cy="326.1" r="1.0"/><circle cx="167.5" cy="326.9" r="1.0"/><circle cx="170.2" cy="326.9" r="1.0"/><circle cx="155.1" cy="328.9" r="1.0"/><circle cx="159.1" cy="329.3" r="1.0"/><circle cx="168.7" cy="328.5" r="1.0"/><circle cx="173.8" cy="327.7" r="1.0"/><circle cx="168.6" cy="328.2" r="1.0"/><circle cx="170.4" cy="327.0" r="1.0"/><circle cx="154.8" cy="328.7" r="1.0"/><circle cx="157.1" cy="329.6" r="1.0"/><circle cx="173.2" cy="331.0" r="1.0"/><circle cx="173.7" cy="331.9" r="1.0"/><circle cx="157.6" cy="333.3" r="1.0"/><circle cx="164.9" cy="333.3" r="1.0"/><circle cx="158.1" cy="335.3" r="1.0"/><circle cx="168.1" cy="337.8" r="1.0"/><circle cx="170.4" cy="339.2" r="1.0"/><circle cx="173.2" cy="337.4" r="1.0"/><circle cx="164.0" cy="338.3" r="1.0"/><circle cx="157.6" cy="340.1" r="1.0"/><circle cx="160.8" cy="344.3" r="1.0"/><circle cx="157.1" cy="346.1" r="1.0"/><circle cx="155.8" cy="348.1" r="1.0"/><circle cx="164.0" cy="352.3" r="1.0"/><circle cx="158.3" cy="376.8" r="1.0"/></g><rect x="17.50" y="224.30" width="195.70" height="182.20" fill="none" stroke="#141414" stroke-width="1.3"/><line x1="66.42" y1="406.50" x2="66.42" y2="407.90" stroke="#141414" stroke-width="1"/><line x1="164.27" y1="406.50" x2="164.27" y2="407.90" stroke="#141414" stroke-width="1"/><line x1="15.50" y1="367.46" x2="17.50" y2="367.46" stroke="#141414" stroke-width="1"/><text x="16.10" y="372.26" font-size="14" text-anchor="end">2</text><rect x="0.60" y="367.00" width="8.2" height="1.25" fill="#000"/><line x1="15.50" y1="315.40" x2="17.50" y2="315.40" stroke="#141414" stroke-width="1"/><text x="16.10" y="320.20" font-size="14" text-anchor="end">0</text><line x1="15.50" y1="263.34" x2="17.50" y2="263.34" stroke="#141414" stroke-width="1"/><text x="16.10" y="268.14" font-size="14" text-anchor="end">2</text><text x="25.60" y="240.40" font-size="14">(d)</text><text x="66.42" y="431.30" font-size="14" text-anchor="middle" textLength="48.6" lengthAdjust="spacing">TianJin</text><text x="164.27" y="431.30" font-size="14" text-anchor="middle" textLength="45.2" lengthAdjust="spacing">XiNing</text></g>
<g><line x1="252.50" y1="370.06" x2="448.20" y2="370.06" stroke="#e0e0e0" stroke-width="1"/><line x1="252.50" y1="333.62" x2="448.20" y2="333.62" stroke="#e0e0e0" stroke-width="1"/><line x1="252.50" y1="297.18" x2="448.20" y2="297.18" stroke="#e0e0e0" stroke-width="1"/><line x1="252.50" y1="260.74" x2="448.20" y2="260.74" stroke="#e0e0e0" stroke-width="1"/><line x1="301.43" y1="224.30" x2="301.43" y2="406.50" stroke="#e0e0e0" stroke-width="1"/><line x1="399.27" y1="224.30" x2="399.27" y2="406.50" stroke="#e0e0e0" stroke-width="1"/><rect x="286.43" y="316.40" width="30.00" height="39.10" fill="#7cc29c" stroke="#6fb690" stroke-width="0.8"/><line x1="301.43" y1="267.80" x2="301.43" y2="316.40" stroke="#141414" stroke-width="1.2"/><line x1="301.43" y1="355.50" x2="301.43" y2="392.40" stroke="#141414" stroke-width="1.2"/><line x1="293.82" y1="267.80" x2="309.03" y2="267.80" stroke="#141414" stroke-width="1.2"/><line x1="293.82" y1="392.40" x2="309.03" y2="392.40" stroke="#141414" stroke-width="1.2"/><line x1="287.12" y1="335.60" x2="315.73" y2="335.60" stroke="#141414" stroke-width="1.5"/><rect x="298.53" y="332.40" width="5.8" height="5.8" fill="none" stroke="#141414" stroke-width="1.4"/><g fill="#000"><circle cx="303.8" cy="267.7" r="1.0"/><circle cx="300.1" cy="277.8" r="1.0"/><circle cx="308.4" cy="282.0" r="1.0"/><circle cx="291.8" cy="293.9" r="1.0"/><circle cx="303.6" cy="293.9" r="1.0"/><circle cx="307.9" cy="293.2" r="1.0"/><circle cx="308.8" cy="295.0" r="1.0"/><circle cx="296.4" cy="297.0" r="1.0"/><circle cx="310.2" cy="300.1" r="1.0"/><circle cx="307.0" cy="302.1" r="1.0"/><circle cx="308.2" cy="305.1" r="1.0"/><circle cx="295.7" cy="308.3" r="1.0"/><circle cx="301.5" cy="311.4" r="1.0"/><circle cx="295.3" cy="313.2" r="1.0"/><circle cx="297.8" cy="315.2" r="1.0"/><circle cx="298.7" cy="318.1" r="1.0"/><circle cx="304.2" cy="318.1" r="1.0"/><circle cx="306.5" cy="321.6" r="1.0"/><circle cx="297.7" cy="315.4" r="1.0"/><circle cx="298.9" cy="318.2" r="1.0"/><circle cx="304.6" cy="318.4" r="1.0"/><circle cx="301.9" cy="319.6" r="1.0"/><circle cx="301.2" cy="321.5" r="1.0"/><circle cx="305.4" cy="322.5" r="1.0"/><circle cx="307.6" cy="322.5" r="1.0"/><circle cx="293.5" cy="327.2" r="1.0"/><circle cx="293.9" cy="330.7" r="1.0"/><circle cx="307.6" cy="331.4" r="1.0"/><circle cx="309.6" cy="333.3" r="1.0"/><circle cx="292.4" cy="333.5" r="1.0"/><circle cx="295.0" cy="339.6" r="1.0"/><circle cx="297.7" cy="339.3" r="1.0"/><circle cx="301.5" cy="340.6" r="1.0"/><circle cx="303.4" cy="342.7" r="1.0"/><circle cx="294.7" cy="344.8" r="1.0"/><circle cx="297.7" cy="343.9" r="1.0"/><circle cx="301.9" cy="346.7" r="1.0"/><circle cx="292.4" cy="349.8" r="1.0"/><circle cx="300.4" cy="349.8" r="1.0"/><circle cx="308.6" cy="348.6" r="1.0"/><circle cx="301.2" cy="354.7" r="1.0"/><circle cx="306.9" cy="354.7" r="1.0"/><circle cx="295.4" cy="360.8" r="1.0"/><circle cx="300.4" cy="361.6" r="1.0"/><circle cx="306.9" cy="361.8" r="1.0"/><circle cx="305.4" cy="364.5" r="1.0"/><circle cx="309.4" cy="369.1" r="1.0"/><circle cx="303.1" cy="371.0" r="1.0"/><circle cx="297.3" cy="374.1" r="1.0"/><circle cx="298.9" cy="374.1" r="1.0"/><circle cx="301.9" cy="380.2" r="1.0"/><circle cx="295.8" cy="389.4" r="1.0"/><circle cx="308.4" cy="389.4" r="1.0"/><circle cx="303.4" cy="392.4" r="1.0"/></g><rect x="384.27" y="299.10" width="30.00" height="39.60" fill="#cd7a84" stroke="#c26d78" stroke-width="0.8"/><line x1="399.27" y1="256.50" x2="399.27" y2="299.10" stroke="#141414" stroke-width="1.2"/><line x1="399.27" y1="338.70" x2="399.27" y2="384.40" stroke="#141414" stroke-width="1.2"/><line x1="391.67" y1="256.50" x2="406.88" y2="256.50" stroke="#141414" stroke-width="1.2"/><line x1="391.67" y1="384.40" x2="406.88" y2="384.40" stroke="#141414" stroke-width="1.2"/><line x1="384.97" y1="325.50" x2="413.57" y2="325.50" stroke="#141414" stroke-width="1.5"/><rect x="396.38" y="316.90" width="5.8" height="5.8" fill="none" stroke="#141414" stroke-width="1.4"/><g fill="#000"><circle cx="392.1" cy="240.4" r="1.0"/><circle cx="394.2" cy="238.4" r="1.0"/><circle cx="395.3" cy="256.8" r="1.0"/><circle cx="403.1" cy="260.6" r="1.0"/><circle cx="408.2" cy="265.8" r="1.0"/><circle cx="403.1" cy="267.8" r="1.0"/><circle cx="396.7" cy="269.6" r="1.0"/><circle cx="400.4" cy="270.7" r="1.0"/><circle cx="406.8" cy="273.9" r="1.0"/><circle cx="394.4" cy="277.0" r="1.0"/><circle cx="406.8" cy="277.6" r="1.0"/><circle cx="407.3" cy="279.9" r="1.0"/><circle cx="393.1" cy="280.8" r="1.0"/><circle cx="399.9" cy="282.5" r="1.0"/><circle cx="403.1" cy="282.0" r="1.0"/><circle cx="401.8" cy="285.0" r="1.0"/><circle cx="407.3" cy="285.0" r="1.0"/><circle cx="405.4" cy="286.1" r="1.0"/><circle cx="391.7" cy="289.8" r="1.0"/><circle cx="396.3" cy="289.6" r="1.0"/><circle cx="398.6" cy="290.7" r="1.0"/><circle cx="402.7" cy="290.0" r="1.0"/><circle cx="393.4" cy="295.1" r="1.0"/><circle cx="392.1" cy="298.9" r="1.0"/><circle cx="397.2" cy="298.1" r="1.0"/><circle cx="403.5" cy="298.1" r="1.0"/><circle cx="393.4" cy="301.0" r="1.0"/><circle cx="397.2" cy="301.5" r="1.0"/><circle cx="400.1" cy="301.9" r="1.0"/><circle cx="408.1" cy="302.1" r="1.0"/><circle cx="394.2" cy="303.3" r="1.0"/><circle cx="401.0" cy="305.2" r="1.0"/><circle cx="393.0" cy="308.2" r="1.0"/><circle cx="399.7" cy="308.2" r="1.0"/><circle cx="390.5" cy="310.7" r="1.0"/><circle cx="390.9" cy="312.0" r="1.0"/><circle cx="401.4" cy="310.7" r="1.0"/><circle cx="405.6" cy="315.3" r="1.0"/><circle cx="392.6" cy="316.6" r="1.0"/><circle cx="390.9" cy="318.3" r="1.0"/><circle cx="409.0" cy="318.3" r="1.0"/><circle cx="406.0" cy="320.4" r="1.0"/><circle cx="405.2" cy="321.5" r="1.0"/><circle cx="390.9" cy="326.3" r="1.0"/><circle cx="399.3" cy="326.7" r="1.0"/><circle cx="403.9" cy="326.3" r="1.0"/><circle cx="394.2" cy="329.2" r="1.0"/><circle cx="394.7" cy="330.5" r="1.0"/><circle cx="401.0" cy="330.5" r="1.0"/><circle cx="406.0" cy="330.9" r="1.0"/><circle cx="408.1" cy="331.7" r="1.0"/><circle cx="390.5" cy="333.8" r="1.0"/><circle cx="394.7" cy="333.8" r="1.0"/><circle cx="404.8" cy="333.0" r="1.0"/><circle cx="406.4" cy="335.5" r="1.0"/><circle cx="402.7" cy="336.8" r="1.0"/><circle cx="396.3" cy="338.0" r="1.0"/><circle cx="398.4" cy="338.5" r="1.0"/><circle cx="398.9" cy="341.0" r="1.0"/><circle cx="405.6" cy="341.4" r="1.0"/><circle cx="401.4" cy="339.5" r="1.0"/><circle cx="406.0" cy="342.3" r="1.0"/><circle cx="397.2" cy="343.7" r="1.0"/><circle cx="395.1" cy="344.8" r="1.0"/><circle cx="402.2" cy="346.1" r="1.0"/><circle cx="395.1" cy="347.8" r="1.0"/><circle cx="400.1" cy="347.8" r="1.0"/><circle cx="396.3" cy="351.0" r="1.0"/><circle cx="390.9" cy="352.8" r="1.0"/><circle cx="396.3" cy="356.0" r="1.0"/><circle cx="406.4" cy="358.0" r="1.0"/><circle cx="405.2" cy="360.0" r="1.0"/><circle cx="390.0" cy="361.1" r="1.0"/><circle cx="392.6" cy="361.1" r="1.0"/><circle cx="401.2" cy="361.1" r="1.0"/><circle cx="404.3" cy="363.1" r="1.0"/><circle cx="403.7" cy="369.1" r="1.0"/><circle cx="398.0" cy="376.8" r="1.0"/><circle cx="407.3" cy="376.2" r="1.0"/><circle cx="394.5" cy="380.2" r="1.0"/><circle cx="392.1" cy="384.4" r="1.0"/></g><rect x="252.50" y="224.30" width="195.70" height="182.20" fill="none" stroke="#141414" stroke-width="1.3"/><line x1="301.43" y1="406.50" x2="301.43" y2="407.90" stroke="#141414" stroke-width="1"/><line x1="399.27" y1="406.50" x2="399.27" y2="407.90" stroke="#141414" stroke-width="1"/><line x1="250.50" y1="406.50" x2="252.50" y2="406.50" stroke="#141414" stroke-width="1"/><text x="251.10" y="411.30" font-size="14" text-anchor="end">34</text><line x1="250.50" y1="370.06" x2="252.50" y2="370.06" stroke="#141414" stroke-width="1"/><text x="251.10" y="374.86" font-size="14" text-anchor="end">36</text><line x1="250.50" y1="333.62" x2="252.50" y2="333.62" stroke="#141414" stroke-width="1"/><text x="251.10" y="338.42" font-size="14" text-anchor="end">38</text><line x1="250.50" y1="297.18" x2="252.50" y2="297.18" stroke="#141414" stroke-width="1"/><text x="251.10" y="301.98" font-size="14" text-anchor="end">40</text><line x1="250.50" y1="260.74" x2="252.50" y2="260.74" stroke="#141414" stroke-width="1"/><text x="251.10" y="265.54" font-size="14" text-anchor="end">42</text><line x1="250.50" y1="224.30" x2="252.50" y2="224.30" stroke="#141414" stroke-width="1"/><text x="251.10" y="229.10" font-size="14" text-anchor="end">44</text><text x="265.50" y="240.40" font-size="14">(e)</text><text x="301.43" y="431.30" font-size="14" text-anchor="middle" textLength="48.6" lengthAdjust="spacing">TianJin</text><text x="399.27" y="431.30" font-size="14" text-anchor="middle" textLength="45.2" lengthAdjust="spacing">XiNing</text></g>
<g><line x1="487.60" y1="400.43" x2="683.30" y2="400.43" stroke="#e0e0e0" stroke-width="1"/><line x1="487.60" y1="370.06" x2="683.30" y2="370.06" stroke="#e0e0e0" stroke-width="1"/><line x1="487.60" y1="339.69" x2="683.30" y2="339.69" stroke="#e0e0e0" stroke-width="1"/><line x1="487.60" y1="309.33" x2="683.30" y2="309.33" stroke="#e0e0e0" stroke-width="1"/><line x1="487.60" y1="278.96" x2="683.30" y2="278.96" stroke="#e0e0e0" stroke-width="1"/><line x1="487.60" y1="248.59" x2="683.30" y2="248.59" stroke="#e0e0e0" stroke-width="1"/><line x1="536.52" y1="224.30" x2="536.52" y2="406.50" stroke="#e0e0e0" stroke-width="1"/><line x1="634.38" y1="224.30" x2="634.38" y2="406.50" stroke="#e0e0e0" stroke-width="1"/><rect x="521.52" y="296.30" width="30.00" height="34.50" fill="#7cc29c" stroke="#6fb690" stroke-width="0.8"/><line x1="536.52" y1="261.30" x2="536.52" y2="296.30" stroke="#141414" stroke-width="1.2"/><line x1="536.52" y1="330.80" x2="536.52" y2="359.80" stroke="#141414" stroke-width="1.2"/><line x1="528.92" y1="261.30" x2="544.12" y2="261.30" stroke="#141414" stroke-width="1.2"/><line x1="528.92" y1="359.80" x2="544.12" y2="359.80" stroke="#141414" stroke-width="1.2"/><line x1="522.23" y1="315.90" x2="550.82" y2="315.90" stroke="#141414" stroke-width="1.5"/><rect x="533.62" y="310.90" width="5.8" height="5.8" fill="none" stroke="#141414" stroke-width="1.4"/><g fill="#000"><circle cx="538.4" cy="261.3" r="1.0"/><circle cx="535.4" cy="276.2" r="1.0"/><circle cx="535.8" cy="278.8" r="1.0"/><circle cx="531.4" cy="279.4" r="1.0"/><circle cx="528.1" cy="283.3" r="1.0"/><circle cx="544.9" cy="282.9" r="1.0"/><circle cx="543.0" cy="289.0" r="1.0"/><circle cx="541.9" cy="290.1" r="1.0"/><circle cx="536.9" cy="290.3" r="1.0"/><circle cx="535.4" cy="291.7" r="1.0"/><circle cx="530.8" cy="292.3" r="1.0"/><circle cx="539.2" cy="294.3" r="1.0"/><circle cx="527.8" cy="296.3" r="1.0"/><circle cx="532.7" cy="296.3" r="1.0"/><circle cx="530.0" cy="297.8" r="1.0"/><circle cx="534.6" cy="299.2" r="1.0"/><circle cx="544.6" cy="298.4" r="1.0"/><circle cx="527.4" cy="301.6" r="1.0"/><circle cx="532.0" cy="304.5" r="1.0"/><circle cx="528.4" cy="305.0" r="1.0"/><circle cx="531.9" cy="304.5" r="1.0"/><circle cx="537.3" cy="306.0" r="1.0"/><circle cx="544.3" cy="306.0" r="1.0"/><circle cx="544.3" cy="307.7" r="1.0"/><circle cx="526.9" cy="309.9" r="1.0"/><circle cx="527.9" cy="310.9" r="1.0"/><circle cx="531.4" cy="312.9" r="1.0"/><circle cx="542.8" cy="315.9" r="1.0"/><circle cx="545.8" cy="316.9" r="1.0"/><circle cx="533.9" cy="318.1" r="1.0"/><circle cx="538.3" cy="318.4" r="1.0"/><circle cx="530.9" cy="320.7" r="1.0"/><circle cx="544.8" cy="320.9" r="1.0"/><circle cx="542.8" cy="323.6" r="1.0"/><circle cx="543.8" cy="327.3" r="1.0"/><circle cx="526.9" cy="328.8" r="1.0"/><circle cx="533.9" cy="328.8" r="1.0"/><circle cx="538.3" cy="332.3" r="1.0"/><circle cx="536.8" cy="333.3" r="1.0"/><circle cx="528.9" cy="336.9" r="1.0"/><circle cx="540.8" cy="337.9" r="1.0"/><circle cx="539.8" cy="340.7" r="1.0"/><circle cx="542.8" cy="342.2" r="1.0"/><circle cx="545.8" cy="341.7" r="1.0"/><circle cx="532.9" cy="343.5" r="1.0"/><circle cx="526.4" cy="345.7" r="1.0"/><circle cx="537.8" cy="352.4" r="1.0"/><circle cx="532.7" cy="353.8" r="1.0"/><circle cx="528.7" cy="359.8" r="1.0"/></g><rect x="619.38" y="327.50" width="30.00" height="28.00" fill="#cd7a84" stroke="#c26d78" stroke-width="0.8"/><line x1="634.38" y1="293.00" x2="634.38" y2="327.50" stroke="#141414" stroke-width="1.2"/><line x1="634.38" y1="355.50" x2="634.38" y2="394.50" stroke="#141414" stroke-width="1.2"/><line x1="626.77" y1="293.00" x2="641.98" y2="293.00" stroke="#141414" stroke-width="1.2"/><line x1="626.77" y1="394.50" x2="641.98" y2="394.50" stroke="#141414" stroke-width="1.2"/><line x1="620.08" y1="343.10" x2="648.67" y2="343.10" stroke="#141414" stroke-width="1.5"/><rect x="631.48" y="339.50" width="5.8" height="5.8" fill="none" stroke="#141414" stroke-width="1.4"/><g fill="#000"><circle cx="633.0" cy="285.7" r="1.0"/><circle cx="640.2" cy="293.0" r="1.0"/><circle cx="629.7" cy="302.5" r="1.0"/><circle cx="643.1" cy="301.2" r="1.0"/><circle cx="624.4" cy="308.6" r="1.0"/><circle cx="634.3" cy="309.9" r="1.0"/><circle cx="638.1" cy="309.3" r="1.0"/><circle cx="629.8" cy="313.2" r="1.0"/><circle cx="633.0" cy="312.8" r="1.0"/><circle cx="634.7" cy="312.0" r="1.0"/><circle cx="630.5" cy="317.0" r="1.0"/><circle cx="627.0" cy="318.0" r="1.0"/><circle cx="629.2" cy="319.5" r="1.0"/><circle cx="634.7" cy="318.5" r="1.0"/><circle cx="642.3" cy="319.4" r="1.0"/><circle cx="625.9" cy="322.1" r="1.0"/><circle cx="628.4" cy="322.5" r="1.0"/><circle cx="630.1" cy="322.9" r="1.0"/><circle cx="638.9" cy="322.7" r="1.0"/><circle cx="628.4" cy="326.1" r="1.0"/><circle cx="636.4" cy="326.3" r="1.0"/><circle cx="633.4" cy="327.5" r="1.0"/><circle cx="643.5" cy="328.1" r="1.0"/><circle cx="630.1" cy="328.4" r="1.0"/><circle cx="632.6" cy="330.5" r="1.0"/><circle cx="625.0" cy="330.9" r="1.0"/><circle cx="626.7" cy="331.5" r="1.0"/><circle cx="628.8" cy="332.1" r="1.0"/><circle cx="635.5" cy="333.0" r="1.0"/><circle cx="638.1" cy="332.6" r="1.0"/><circle cx="639.8" cy="333.0" r="1.0"/><circle cx="625.9" cy="333.4" r="1.0"/><circle cx="635.0" cy="332.7" r="1.0"/><circle cx="625.4" cy="334.8" r="1.0"/><circle cx="636.6" cy="334.3" r="1.0"/><circle cx="640.4" cy="334.8" r="1.0"/><circle cx="640.9" cy="338.4" r="1.0"/><circle cx="630.7" cy="337.5" r="1.0"/><circle cx="628.1" cy="340.2" r="1.0"/><circle cx="625.4" cy="341.2" r="1.0"/><circle cx="643.6" cy="343.9" r="1.0"/><circle cx="624.8" cy="347.1" r="1.0"/><circle cx="631.8" cy="346.1" r="1.0"/><circle cx="639.8" cy="346.1" r="1.0"/><circle cx="643.0" cy="347.7" r="1.0"/><circle cx="627.0" cy="349.3" r="1.0"/><circle cx="633.4" cy="348.7" r="1.0"/><circle cx="635.0" cy="349.8" r="1.0"/><circle cx="625.9" cy="351.9" r="1.0"/><circle cx="636.1" cy="351.9" r="1.0"/><circle cx="638.8" cy="351.4" r="1.0"/><circle cx="627.0" cy="353.3" r="1.0"/><circle cx="629.1" cy="354.8" r="1.0"/><circle cx="634.0" cy="354.8" r="1.0"/><circle cx="639.3" cy="355.2" r="1.0"/><circle cx="643.0" cy="355.2" r="1.0"/><circle cx="632.9" cy="357.3" r="1.0"/><circle cx="640.4" cy="358.4" r="1.0"/><circle cx="643.0" cy="358.7" r="1.0"/><circle cx="625.9" cy="360.8" r="1.0"/><circle cx="629.1" cy="360.0" r="1.0"/><circle cx="634.5" cy="361.6" r="1.0"/><circle cx="637.7" cy="362.7" r="1.0"/><circle cx="640.4" cy="361.3" r="1.0"/><circle cx="639.8" cy="365.9" r="1.0"/><circle cx="628.1" cy="366.9" r="1.0"/><circle cx="629.7" cy="369.6" r="1.0"/><circle cx="636.6" cy="367.7" r="1.0"/><circle cx="636.1" cy="370.7" r="1.0"/><circle cx="643.6" cy="368.5" r="1.0"/><circle cx="632.9" cy="373.9" r="1.0"/><circle cx="640.4" cy="378.9" r="1.0"/><circle cx="643.0" cy="381.6" r="1.0"/><circle cx="627.0" cy="385.1" r="1.0"/><circle cx="635.0" cy="389.4" r="1.0"/><circle cx="643.6" cy="392.1" r="1.0"/><circle cx="628.1" cy="394.2" r="1.0"/><circle cx="629.7" cy="398.3" r="1.0"/><circle cx="638.0" cy="340.0" r="1.0"/><circle cx="631.0" cy="342.0" r="1.0"/><circle cx="642.0" cy="336.0" r="1.0"/></g><rect x="487.60" y="224.30" width="195.70" height="182.20" fill="none" stroke="#141414" stroke-width="1.3"/><line x1="536.52" y1="406.50" x2="536.52" y2="407.90" stroke="#141414" stroke-width="1"/><line x1="634.38" y1="406.50" x2="634.38" y2="407.90" stroke="#141414" stroke-width="1"/><line x1="485.60" y1="400.43" x2="487.60" y2="400.43" stroke="#141414" stroke-width="1"/><text x="486.20" y="405.23" font-size="14" text-anchor="end" textLength="25.30" lengthAdjust="spacing">32.5</text><line x1="485.60" y1="370.06" x2="487.60" y2="370.06" stroke="#141414" stroke-width="1"/><text x="486.20" y="374.86" font-size="14" text-anchor="end" textLength="25.30" lengthAdjust="spacing">35.0</text><line x1="485.60" y1="339.69" x2="487.60" y2="339.69" stroke="#141414" stroke-width="1"/><text x="486.20" y="344.49" font-size="14" text-anchor="end" textLength="25.30" lengthAdjust="spacing">37.5</text><line x1="485.60" y1="309.33" x2="487.60" y2="309.33" stroke="#141414" stroke-width="1"/><text x="486.20" y="314.13" font-size="14" text-anchor="end" textLength="25.30" lengthAdjust="spacing">40.0</text><line x1="485.60" y1="278.96" x2="487.60" y2="278.96" stroke="#141414" stroke-width="1"/><text x="486.20" y="283.76" font-size="14" text-anchor="end" textLength="25.30" lengthAdjust="spacing">42.5</text><line x1="485.60" y1="248.59" x2="487.60" y2="248.59" stroke="#141414" stroke-width="1"/><text x="486.20" y="253.39" font-size="14" text-anchor="end" textLength="25.30" lengthAdjust="spacing">45.0</text><text x="494.70" y="240.40" font-size="14">(f)</text><text x="536.52" y="431.30" font-size="14" text-anchor="middle" textLength="48.6" lengthAdjust="spacing">TianJin</text><text x="634.38" y="431.30" font-size="14" text-anchor="middle" textLength="45.2" lengthAdjust="spacing">XiNing</text></g>
<g><line x1="17.50" y1="579.80" x2="213.20" y2="579.80" stroke="#e0e0e0" stroke-width="1"/><line x1="17.50" y1="522.80" x2="213.20" y2="522.80" stroke="#e0e0e0" stroke-width="1"/><line x1="17.50" y1="465.80" x2="213.20" y2="465.80" stroke="#e0e0e0" stroke-width="1"/><line x1="66.42" y1="443.00" x2="66.42" y2="625.40" stroke="#e0e0e0" stroke-width="1"/><line x1="164.27" y1="443.00" x2="164.27" y2="625.40" stroke="#e0e0e0" stroke-width="1"/><rect x="51.42" y="537.10" width="30.00" height="28.20" fill="#7cc29c" stroke="#6fb690" stroke-width="0.8"/><line x1="66.42" y1="497.30" x2="66.42" y2="537.10" stroke="#141414" stroke-width="1.2"/><line x1="66.42" y1="565.30" x2="66.42" y2="605.50" stroke="#141414" stroke-width="1.2"/><line x1="58.82" y1="497.30" x2="74.02" y2="497.30" stroke="#141414" stroke-width="1.2"/><line x1="58.82" y1="605.50" x2="74.02" y2="605.50" stroke="#141414" stroke-width="1.2"/><line x1="52.12" y1="548.40" x2="80.72" y2="548.40" stroke="#141414" stroke-width="1.5"/><rect x="63.52" y="548.90" width="5.8" height="5.8" fill="none" stroke="#141414" stroke-width="1.4"/><g fill="#000"><circle cx="75.9" cy="499.2" r="1.0"/><circle cx="57.6" cy="508.2" r="1.0"/><circle cx="74.3" cy="509.4" r="1.0"/><circle cx="62.8" cy="518.3" r="1.0"/><circle cx="63.7" cy="519.8" r="1.0"/><circle cx="61.4" cy="521.7" r="1.0"/><circle cx="75.2" cy="517.7" r="1.0"/><circle cx="72.0" cy="519.5" r="1.0"/><circle cx="56.8" cy="522.6" r="1.0"/><circle cx="74.7" cy="526.5" r="1.0"/><circle cx="75.0" cy="528.3" r="1.0"/><circle cx="64.4" cy="534.0" r="1.0"/><circle cx="57.9" cy="538.4" r="1.0"/><circle cx="63.7" cy="538.4" r="1.0"/><circle cx="68.8" cy="538.4" r="1.0"/><circle cx="70.6" cy="537.9" r="1.0"/><circle cx="71.1" cy="540.6" r="1.0"/><circle cx="72.0" cy="540.5" r="1.0"/><circle cx="59.1" cy="541.8" r="1.0"/><circle cx="56.8" cy="545.0" r="1.0"/><circle cx="66.9" cy="544.9" r="1.0"/><circle cx="72.9" cy="543.7" r="1.0"/><circle cx="73.8" cy="546.0" r="1.0"/><circle cx="63.7" cy="546.9" r="1.0"/><circle cx="56.8" cy="546.1" r="1.0"/><circle cx="74.0" cy="546.3" r="1.0"/><circle cx="61.7" cy="550.4" r="1.0"/><circle cx="56.8" cy="555.5" r="1.0"/><circle cx="57.9" cy="556.6" r="1.0"/><circle cx="61.7" cy="555.7" r="1.0"/><circle cx="57.9" cy="558.7" r="1.0"/><circle cx="62.7" cy="559.5" r="1.0"/><circle cx="69.2" cy="558.4" r="1.0"/><circle cx="75.0" cy="557.6" r="1.0"/><circle cx="68.6" cy="561.6" r="1.0"/><circle cx="72.1" cy="561.9" r="1.0"/><circle cx="57.7" cy="564.8" r="1.0"/><circle cx="67.3" cy="565.1" r="1.0"/><circle cx="75.0" cy="565.1" r="1.0"/><circle cx="69.7" cy="568.3" r="1.0"/><circle cx="71.3" cy="571.2" r="1.0"/><circle cx="74.5" cy="573.4" r="1.0"/><circle cx="69.7" cy="574.8" r="1.0"/><circle cx="60.1" cy="586.5" r="1.0"/><circle cx="58.1" cy="590.0" r="1.0"/><circle cx="68.8" cy="588.7" r="1.0"/><circle cx="64.6" cy="594.8" r="1.0"/><circle cx="62.4" cy="600.1" r="1.0"/><circle cx="73.8" cy="601.2" r="1.0"/><circle cx="65.9" cy="602.8" r="1.0"/><circle cx="57.9" cy="606.0" r="1.0"/><circle cx="69.5" cy="610.8" r="1.0"/></g><rect x="149.27" y="519.20" width="30.00" height="29.10" fill="#cd7a84" stroke="#c26d78" stroke-width="0.8"/><line x1="164.27" y1="482.30" x2="164.27" y2="519.20" stroke="#141414" stroke-width="1.2"/><line x1="164.27" y1="548.30" x2="164.27" y2="590.30" stroke="#141414" stroke-width="1.2"/><line x1="156.67" y1="482.30" x2="171.87" y2="482.30" stroke="#141414" stroke-width="1.2"/><line x1="156.67" y1="590.30" x2="171.87" y2="590.30" stroke="#141414" stroke-width="1.2"/><line x1="149.97" y1="535.40" x2="178.57" y2="535.40" stroke="#141414" stroke-width="1.5"/><rect x="161.37" y="532.20" width="5.8" height="5.8" fill="none" stroke="#141414" stroke-width="1.4"/><g fill="#000"><circle cx="161.5" cy="485.9" r="1.0"/><circle cx="171.9" cy="493.5" r="1.0"/><circle cx="156.7" cy="496.9" r="1.0"/><circle cx="169.3" cy="497.0" r="1.0"/><circle cx="169.1" cy="498.7" r="1.0"/><circle cx="154.6" cy="500.7" r="1.0"/><circle cx="157.1" cy="500.9" r="1.0"/><circle cx="159.7" cy="499.8" r="1.0"/><circle cx="157.6" cy="502.3" r="1.0"/><circle cx="173.1" cy="501.7" r="1.0"/><circle cx="172.3" cy="503.2" r="1.0"/><circle cx="173.5" cy="504.4" r="1.0"/><circle cx="159.2" cy="506.8" r="1.0"/><circle cx="169.8" cy="507.4" r="1.0"/><circle cx="158.0" cy="510.7" r="1.0"/><circle cx="160.9" cy="510.7" r="1.0"/><circle cx="155.9" cy="512.4" r="1.0"/><circle cx="166.0" cy="512.0" r="1.0"/><circle cx="168.9" cy="511.8" r="1.0"/><circle cx="171.9" cy="511.0" r="1.0"/><circle cx="173.1" cy="514.4" r="1.0"/><circle cx="164.7" cy="514.1" r="1.0"/><circle cx="164.0" cy="552.8" r="1.0"/><circle cx="173.6" cy="552.6" r="1.0"/><circle cx="155.9" cy="554.1" r="1.0"/><circle cx="168.8" cy="554.4" r="1.0"/><circle cx="170.4" cy="556.0" r="1.0"/><circle cx="156.5" cy="558.2" r="1.0"/><circle cx="162.3" cy="558.7" r="1.0"/><circle cx="162.3" cy="561.9" r="1.0"/><circle cx="161.8" cy="564.6" r="1.0"/><circle cx="171.4" cy="565.7" r="1.0"/><circle cx="157.0" cy="567.8" r="1.0"/><circle cx="160.7" cy="570.8" r="1.0"/><circle cx="165.0" cy="570.8" r="1.0"/><circle cx="168.8" cy="571.3" r="1.0"/><circle cx="173.6" cy="570.0" r="1.0"/><circle cx="173.0" cy="575.1" r="1.0"/><circle cx="159.7" cy="576.6" r="1.0"/><circle cx="171.4" cy="587.1" r="1.0"/><circle cx="160.7" cy="590.1" r="1.0"/><circle cx="163.4" cy="593.5" r="1.0"/><circle cx="156.3" cy="517.0" r="1.0"/><circle cx="160.0" cy="515.6" r="1.0"/><circle cx="155.5" cy="519.5" r="1.0"/><circle cx="158.9" cy="520.1" r="1.0"/><circle cx="160.3" cy="519.5" r="1.0"/><circle cx="163.4" cy="520.9" r="1.0"/><circle cx="164.2" cy="520.1" r="1.0"/><circle cx="168.5" cy="520.1" r="1.0"/><circle cx="169.9" cy="521.5" r="1.0"/><circle cx="173.0" cy="522.6" r="1.0"/><circle cx="159.4" cy="523.5" r="1.0"/><circle cx="168.5" cy="524.0" r="1.0"/><circle cx="157.5" cy="526.6" r="1.0"/><circle cx="163.4" cy="527.4" r="1.0"/><circle cx="163.7" cy="528.3" r="1.0"/><circle cx="167.4" cy="526.6" r="1.0"/><circle cx="154.9" cy="528.8" r="1.0"/><circle cx="156.0" cy="528.3" r="1.0"/><circle cx="173.0" cy="529.7" r="1.0"/><circle cx="161.7" cy="530.5" r="1.0"/><circle cx="164.0" cy="531.1" r="1.0"/><circle cx="165.7" cy="531.4" r="1.0"/><circle cx="167.1" cy="532.0" r="1.0"/><circle cx="170.2" cy="531.7" r="1.0"/><circle cx="172.4" cy="532.2" r="1.0"/><circle cx="160.3" cy="532.2" r="1.0"/><circle cx="155.5" cy="533.4" r="1.0"/><circle cx="168.5" cy="533.7" r="1.0"/><circle cx="161.1" cy="534.8" r="1.0"/><circle cx="171.9" cy="536.5" r="1.0"/><circle cx="168.2" cy="536.8" r="1.0"/><circle cx="154.9" cy="538.7" r="1.0"/><circle cx="154.9" cy="541.0" r="1.0"/><circle cx="159.2" cy="539.3" r="1.0"/><circle cx="160.6" cy="540.7" r="1.0"/><circle cx="164.0" cy="541.0" r="1.0"/><circle cx="165.1" cy="539.9" r="1.0"/><circle cx="165.9" cy="542.1" r="1.0"/><circle cx="168.8" cy="539.0" r="1.0"/><circle cx="171.9" cy="540.7" r="1.0"/><circle cx="170.7" cy="542.4" r="1.0"/><circle cx="157.2" cy="544.1" r="1.0"/><circle cx="160.0" cy="543.8" r="1.0"/><circle cx="160.6" cy="545.5" r="1.0"/><circle cx="174.1" cy="545.5" r="1.0"/><circle cx="157.2" cy="547.5" r="1.0"/><circle cx="158.0" cy="548.9" r="1.0"/><circle cx="162.8" cy="547.8" r="1.0"/><circle cx="165.1" cy="547.5" r="1.0"/><circle cx="167.9" cy="547.8" r="1.0"/><circle cx="173.0" cy="547.5" r="1.0"/><circle cx="164.0" cy="550.0" r="1.0"/><circle cx="171.9" cy="549.8" r="1.0"/></g><rect x="17.50" y="443.00" width="195.70" height="182.40" fill="none" stroke="#141414" stroke-width="1.3"/><line x1="66.42" y1="625.40" x2="66.42" y2="626.80" stroke="#141414" stroke-width="1"/><line x1="164.27" y1="625.40" x2="164.27" y2="626.80" stroke="#141414" stroke-width="1"/><line x1="15.50" y1="579.80" x2="17.50" y2="579.80" stroke="#141414" stroke-width="1"/><text x="16.10" y="584.60" font-size="14" text-anchor="end">20</text><line x1="15.50" y1="522.80" x2="17.50" y2="522.80" stroke="#141414" stroke-width="1"/><text x="16.10" y="527.60" font-size="14" text-anchor="end">25</text><line x1="15.50" y1="465.80" x2="17.50" y2="465.80" stroke="#141414" stroke-width="1"/><text x="16.10" y="470.60" font-size="14" text-anchor="end">30</text><text x="25.60" y="462.10" font-size="14">(g)</text><text x="66.42" y="650.20" font-size="14" text-anchor="middle" textLength="48.6" lengthAdjust="spacing">TianJin</text><text x="164.27" y="650.20" font-size="14" text-anchor="middle" textLength="45.2" lengthAdjust="spacing">XiNing</text></g>
<g><line x1="252.50" y1="601.08" x2="448.20" y2="601.08" stroke="#e0e0e0" stroke-width="1"/><line x1="252.50" y1="570.68" x2="448.20" y2="570.68" stroke="#e0e0e0" stroke-width="1"/><line x1="252.50" y1="540.28" x2="448.20" y2="540.28" stroke="#e0e0e0" stroke-width="1"/><line x1="252.50" y1="509.88" x2="448.20" y2="509.88" stroke="#e0e0e0" stroke-width="1"/><line x1="252.50" y1="479.48" x2="448.20" y2="479.48" stroke="#e0e0e0" stroke-width="1"/><line x1="252.50" y1="449.08" x2="448.20" y2="449.08" stroke="#e0e0e0" stroke-width="1"/><line x1="301.43" y1="443.00" x2="301.43" y2="625.40" stroke="#e0e0e0" stroke-width="1"/><line x1="399.27" y1="443.00" x2="399.27" y2="625.40" stroke="#e0e0e0" stroke-width="1"/><rect x="286.43" y="490.00" width="30.00" height="46.00" fill="#7cc29c" stroke="#6fb690" stroke-width="0.8"/><line x1="301.43" y1="478.30" x2="301.43" y2="490.00" stroke="#141414" stroke-width="1.2"/><line x1="301.43" y1="536.00" x2="301.43" y2="598.30" stroke="#141414" stroke-width="1.2"/><line x1="293.82" y1="478.30" x2="309.03" y2="478.30" stroke="#141414" stroke-width="1.2"/><line x1="293.82" y1="598.30" x2="309.03" y2="598.30" stroke="#141414" stroke-width="1.2"/><line x1="287.12" y1="514.70" x2="315.73" y2="514.70" stroke="#141414" stroke-width="1.5"/><rect x="298.53" y="515.60" width="5.8" height="5.8" fill="none" stroke="#141414" stroke-width="1.4"/><g fill="#000"><circle cx="295.1" cy="478.1" r="1.0"/><circle cx="297.3" cy="477.8" r="1.0"/><circle cx="300.1" cy="478.1" r="1.0"/><circle cx="303.8" cy="479.0" r="1.0"/><circle cx="310.2" cy="479.2" r="1.0"/><circle cx="296.0" cy="480.3" r="1.0"/><circle cx="308.4" cy="480.8" r="1.0"/><circle cx="298.3" cy="483.3" r="1.0"/><circle cx="303.8" cy="483.6" r="1.0"/><circle cx="307.0" cy="483.8" r="1.0"/><circle cx="297.3" cy="485.6" r="1.0"/><circle cx="294.1" cy="486.7" r="1.0"/><circle cx="298.3" cy="487.0" r="1.0"/><circle cx="297.8" cy="488.8" r="1.0"/><circle cx="310.7" cy="488.8" r="1.0"/><circle cx="298.3" cy="490.9" r="1.0"/><circle cx="305.6" cy="491.6" r="1.0"/><circle cx="296.9" cy="493.4" r="1.0"/><circle cx="297.3" cy="494.6" r="1.0"/><circle cx="301.0" cy="494.8" r="1.0"/><circle cx="295.1" cy="498.3" r="1.0"/><circle cx="301.9" cy="501.0" r="1.0"/><circle cx="310.2" cy="503.9" r="1.0"/><circle cx="310.2" cy="505.0" r="1.0"/><circle cx="297.8" cy="505.0" r="1.0"/><circle cx="299.6" cy="507.2" r="1.0"/><circle cx="292.3" cy="510.4" r="1.0"/><circle cx="303.8" cy="509.6" r="1.0"/><circle cx="310.2" cy="511.1" r="1.0"/><circle cx="303.3" cy="512.9" r="1.0"/><circle cx="293.7" cy="517.7" r="1.0"/><circle cx="310.2" cy="515.9" r="1.0"/><circle cx="311.1" cy="519.4" r="1.0"/><circle cx="295.5" cy="520.9" r="1.0"/><circle cx="298.3" cy="525.2" r="1.0"/><circle cx="294.1" cy="526.7" r="1.0"/><circle cx="309.7" cy="528.3" r="1.0"/><circle cx="298.0" cy="525.6" r="1.0"/><circle cx="293.7" cy="529.3" r="1.0"/><circle cx="299.2" cy="530.5" r="1.0"/><circle cx="309.6" cy="528.1" r="1.0"/><circle cx="296.7" cy="532.6" r="1.0"/><circle cx="298.6" cy="534.5" r="1.0"/><circle cx="305.3" cy="533.8" r="1.0"/><circle cx="295.5" cy="537.8" r="1.0"/><circle cx="298.0" cy="548.0" r="1.0"/><circle cx="305.9" cy="546.0" r="1.0"/><circle cx="308.3" cy="548.2" r="1.0"/><circle cx="300.4" cy="553.7" r="1.0"/><circle cx="300.8" cy="557.8" r="1.0"/><circle cx="295.9" cy="558.3" r="1.0"/><circle cx="306.1" cy="565.1" r="1.0"/><circle cx="311.0" cy="565.6" r="1.0"/><circle cx="295.5" cy="566.6" r="1.0"/><circle cx="304.7" cy="568.4" r="1.0"/><circle cx="304.1" cy="584.7" r="1.0"/></g><rect x="384.27" y="483.80" width="30.00" height="28.60" fill="#cd7a84" stroke="#c26d78" stroke-width="0.8"/><line x1="399.27" y1="478.20" x2="399.27" y2="483.80" stroke="#141414" stroke-width="1.2"/><line x1="399.27" y1="512.40" x2="399.27" y2="553.70" stroke="#141414" stroke-width="1.2"/><line x1="391.67" y1="478.20" x2="406.88" y2="478.20" stroke="#141414" stroke-width="1.2"/><line x1="391.67" y1="553.70" x2="406.88" y2="553.70" stroke="#141414" stroke-width="1.2"/><line x1="384.97" y1="492.70" x2="413.57" y2="492.70" stroke="#141414" stroke-width="1.5"/><rect x="396.38" y="499.50" width="5.8" height="5.8" fill="none" stroke="#141414" stroke-width="1.4"/><g fill="#000"><circle cx="389.6" cy="479.5" r="1.0"/><circle cx="392.3" cy="478.0" r="1.0"/><circle cx="393.4" cy="478.4" r="1.0"/><circle cx="396.1" cy="478.3" r="1.0"/><circle cx="399.9" cy="478.4" r="1.0"/><circle cx="403.4" cy="478.3" r="1.0"/><circle cx="406.0" cy="478.6" r="1.0"/><circle cx="408.7" cy="479.5" r="1.0"/><circle cx="390.8" cy="480.7" r="1.0"/><circle cx="399.2" cy="480.3" r="1.0"/><circle cx="401.8" cy="480.7" r="1.0"/><circle cx="404.1" cy="480.3" r="1.0"/><circle cx="405.6" cy="481.1" r="1.0"/><circle cx="390.0" cy="482.2" r="1.0"/><circle cx="399.9" cy="482.2" r="1.0"/><circle cx="403.0" cy="482.2" r="1.0"/><circle cx="390.4" cy="483.8" r="1.0"/><circle cx="396.9" cy="483.8" r="1.0"/><circle cx="402.2" cy="483.9" r="1.0"/><circle cx="391.5" cy="486.0" r="1.0"/><circle cx="395.7" cy="485.3" r="1.0"/><circle cx="401.4" cy="486.4" r="1.0"/><circle cx="403.7" cy="485.7" r="1.0"/><circle cx="406.0" cy="485.3" r="1.0"/><circle cx="397.6" cy="488.3" r="1.0"/><circle cx="401.8" cy="488.0" r="1.0"/><circle cx="407.6" cy="488.2" r="1.0"/><circle cx="392.3" cy="490.2" r="1.0"/><circle cx="393.8" cy="491.4" r="1.0"/><circle cx="401.1" cy="490.6" r="1.0"/><circle cx="407.9" cy="491.4" r="1.0"/><circle cx="391.1" cy="492.9" r="1.0"/><circle cx="393.0" cy="492.2" r="1.0"/><circle cx="395.3" cy="492.5" r="1.0"/><circle cx="401.4" cy="492.9" r="1.0"/><circle cx="389.2" cy="494.4" r="1.0"/><circle cx="397.2" cy="494.4" r="1.0"/><circle cx="405.3" cy="497.1" r="1.0"/><circle cx="403.0" cy="498.6" r="1.0"/><circle cx="391.5" cy="498.6" r="1.0"/><circle cx="390.4" cy="500.2" r="1.0"/><circle cx="391.1" cy="502.8" r="1.0"/><circle cx="393.0" cy="502.8" r="1.0"/><circle cx="390.8" cy="505.1" r="1.0"/><circle cx="392.7" cy="505.5" r="1.0"/><circle cx="405.3" cy="504.4" r="1.0"/><circle cx="407.6" cy="503.6" r="1.0"/><circle cx="400.7" cy="507.4" r="1.0"/><circle cx="397.6" cy="510.1" r="1.0"/><circle cx="391.9" cy="513.9" r="1.0"/><circle cx="400.7" cy="515.8" r="1.0"/><circle cx="406.0" cy="516.2" r="1.0"/><circle cx="409.1" cy="517.7" r="1.0"/><circle cx="391.9" cy="518.1" r="1.0"/><circle cx="392.0" cy="514.1" r="1.0"/><circle cx="401.1" cy="515.9" r="1.0"/><circle cx="405.9" cy="516.6" r="1.0"/><circle cx="392.0" cy="518.6" r="1.0"/><circle cx="407.5" cy="521.2" r="1.0"/><circle cx="399.0" cy="523.4" r="1.0"/><circle cx="393.6" cy="524.5" r="1.0"/><circle cx="406.8" cy="524.8" r="1.0"/><circle cx="389.8" cy="526.1" r="1.0"/><circle cx="398.4" cy="527.1" r="1.0"/><circle cx="408.9" cy="528.0" r="1.0"/><circle cx="405.4" cy="532.7" r="1.0"/><circle cx="407.0" cy="533.0" r="1.0"/><circle cx="406.4" cy="535.2" r="1.0"/><circle cx="401.6" cy="534.1" r="1.0"/><circle cx="408.0" cy="541.6" r="1.0"/><circle cx="405.9" cy="543.7" r="1.0"/><circle cx="396.3" cy="544.8" r="1.0"/><circle cx="391.5" cy="547.7" r="1.0"/><circle cx="392.5" cy="553.9" r="1.0"/><circle cx="395.7" cy="553.9" r="1.0"/><circle cx="396.1" cy="559.3" r="1.0"/><circle cx="392.2" cy="566.2" r="1.0"/><circle cx="399.0" cy="568.0" r="1.0"/><circle cx="402.0" cy="588.8" r="1.0"/><circle cx="398.1" cy="599.7" r="1.0"/><circle cx="394.5" cy="479.2" r="1.0"/><circle cx="397.5" cy="481.5" r="1.0"/><circle cx="395.0" cy="487.5" r="1.0"/><circle cx="404.5" cy="489.5" r="1.0"/><circle cx="398.5" cy="486.5" r="1.0"/><circle cx="409.0" cy="484.0" r="1.0"/></g><rect x="252.50" y="443.00" width="195.70" height="182.40" fill="none" stroke="#141414" stroke-width="1.3"/><line x1="301.43" y1="625.40" x2="301.43" y2="626.80" stroke="#141414" stroke-width="1"/><line x1="399.27" y1="625.40" x2="399.27" y2="626.80" stroke="#141414" stroke-width="1"/><line x1="250.50" y1="601.08" x2="252.50" y2="601.08" stroke="#141414" stroke-width="1"/><text x="251.10" y="605.88" font-size="14" text-anchor="end" textLength="18.30" lengthAdjust="spacing">5.0</text><line x1="250.50" y1="570.68" x2="252.50" y2="570.68" stroke="#141414" stroke-width="1"/><text x="251.10" y="575.48" font-size="14" text-anchor="end" textLength="18.30" lengthAdjust="spacing">7.5</text><line x1="250.50" y1="540.28" x2="252.50" y2="540.28" stroke="#141414" stroke-width="1"/><text x="251.10" y="545.08" font-size="14" text-anchor="end" textLength="25.30" lengthAdjust="spacing">10.0</text><line x1="250.50" y1="509.88" x2="252.50" y2="509.88" stroke="#141414" stroke-width="1"/><text x="251.10" y="514.68" font-size="14" text-anchor="end" textLength="25.30" lengthAdjust="spacing">12.5</text><line x1="250.50" y1="479.48" x2="252.50" y2="479.48" stroke="#141414" stroke-width="1"/><text x="251.10" y="484.28" font-size="14" text-anchor="end" textLength="25.30" lengthAdjust="spacing">15.0</text><line x1="250.50" y1="449.08" x2="252.50" y2="449.08" stroke="#141414" stroke-width="1"/><text x="251.10" y="453.88" font-size="14" text-anchor="end" textLength="25.30" lengthAdjust="spacing">17.5</text><text x="265.50" y="462.00" font-size="14">(h)</text><text x="301.43" y="650.20" font-size="14" text-anchor="middle" textLength="48.6" lengthAdjust="spacing">TianJin</text><text x="399.27" y="650.20" font-size="14" text-anchor="middle" textLength="45.2" lengthAdjust="spacing">XiNing</text></g>
<g><line x1="487.60" y1="593.95" x2="683.30" y2="593.95" stroke="#e0e0e0" stroke-width="1"/><line x1="487.60" y1="562.50" x2="683.30" y2="562.50" stroke="#e0e0e0" stroke-width="1"/><line x1="487.60" y1="531.06" x2="683.30" y2="531.06" stroke="#e0e0e0" stroke-width="1"/><line x1="487.60" y1="499.61" x2="683.30" y2="499.61" stroke="#e0e0e0" stroke-width="1"/><line x1="487.60" y1="468.16" x2="683.30" y2="468.16" stroke="#e0e0e0" stroke-width="1"/><line x1="536.52" y1="443.00" x2="536.52" y2="625.40" stroke="#e0e0e0" stroke-width="1"/><line x1="634.38" y1="443.00" x2="634.38" y2="625.40" stroke="#e0e0e0" stroke-width="1"/><rect x="521.52" y="483.10" width="30.00" height="47.60" fill="#7cc29c" stroke="#6fb690" stroke-width="0.8"/><line x1="536.52" y1="468.10" x2="536.52" y2="483.10" stroke="#141414" stroke-width="1.2"/><line x1="536.52" y1="530.70" x2="536.52" y2="593.70" stroke="#141414" stroke-width="1.2"/><line x1="528.92" y1="468.10" x2="544.12" y2="468.10" stroke="#141414" stroke-width="1.2"/><line x1="528.92" y1="593.70" x2="544.12" y2="593.70" stroke="#141414" stroke-width="1.2"/><line x1="522.23" y1="499.30" x2="550.82" y2="499.30" stroke="#141414" stroke-width="1.5"/><rect x="533.62" y="505.80" width="5.8" height="5.8" fill="none" stroke="#141414" stroke-width="1.4"/><g fill="#000"><circle cx="533.8" cy="468.6" r="1.0"/><circle cx="539.7" cy="468.6" r="1.0"/><circle cx="534.9" cy="472.2" r="1.0"/><circle cx="537.0" cy="472.2" r="1.0"/><circle cx="541.3" cy="471.4" r="1.0"/><circle cx="543.4" cy="470.6" r="1.0"/><circle cx="529.8" cy="478.1" r="1.0"/><circle cx="530.1" cy="479.1" r="1.0"/><circle cx="545.0" cy="479.1" r="1.0"/><circle cx="533.8" cy="480.7" r="1.0"/><circle cx="539.7" cy="482.3" r="1.0"/><circle cx="533.3" cy="484.0" r="1.0"/><circle cx="538.6" cy="484.3" r="1.0"/><circle cx="543.4" cy="484.0" r="1.0"/><circle cx="544.5" cy="484.5" r="1.0"/><circle cx="544.0" cy="486.6" r="1.0"/><circle cx="542.9" cy="488.2" r="1.0"/><circle cx="535.4" cy="488.8" r="1.0"/><circle cx="542.4" cy="490.1" r="1.0"/><circle cx="541.3" cy="491.8" r="1.0"/><circle cx="529.5" cy="493.6" r="1.0"/><circle cx="533.3" cy="493.0" r="1.0"/><circle cx="544.0" cy="495.0" r="1.0"/><circle cx="545.0" cy="497.3" r="1.0"/><circle cx="539.2" cy="498.9" r="1.0"/><circle cx="543.4" cy="502.5" r="1.0"/><circle cx="531.7" cy="503.8" r="1.0"/><circle cx="530.1" cy="509.1" r="1.0"/><circle cx="531.7" cy="510.7" r="1.0"/><circle cx="536.5" cy="512.3" r="1.0"/><circle cx="526.8" cy="513.6" r="1.0"/><circle cx="529.0" cy="514.5" r="1.0"/><circle cx="539.2" cy="514.5" r="1.0"/><circle cx="542.7" cy="521.1" r="1.0"/><circle cx="529.0" cy="524.6" r="1.0"/><circle cx="533.3" cy="525.7" r="1.0"/><circle cx="539.2" cy="528.2" r="1.0"/><circle cx="529.0" cy="529.7" r="1.0"/><circle cx="533.5" cy="525.6" r="1.0"/><circle cx="542.9" cy="533.2" r="1.0"/><circle cx="532.1" cy="537.0" r="1.0"/><circle cx="539.4" cy="540.8" r="1.0"/><circle cx="544.0" cy="540.8" r="1.0"/><circle cx="528.3" cy="546.8" r="1.0"/><circle cx="529.8" cy="551.1" r="1.0"/><circle cx="536.9" cy="550.8" r="1.0"/><circle cx="542.4" cy="552.3" r="1.0"/><circle cx="531.0" cy="559.9" r="1.0"/><circle cx="535.8" cy="559.1" r="1.0"/><circle cx="544.9" cy="561.1" r="1.0"/><circle cx="533.5" cy="564.5" r="1.0"/><circle cx="543.6" cy="581.7" r="1.0"/><circle cx="532.3" cy="593.7" r="1.0"/></g><rect x="619.38" y="506.20" width="30.00" height="23.40" fill="#cd7a84" stroke="#c26d78" stroke-width="0.8"/><line x1="634.38" y1="476.20" x2="634.38" y2="506.20" stroke="#141414" stroke-width="1.2"/><line x1="634.38" y1="529.60" x2="634.38" y2="559.80" stroke="#141414" stroke-width="1.2"/><line x1="626.77" y1="476.20" x2="641.98" y2="476.20" stroke="#141414" stroke-width="1.2"/><line x1="626.77" y1="559.80" x2="641.98" y2="559.80" stroke="#141414" stroke-width="1.2"/><line x1="620.08" y1="515.50" x2="648.67" y2="515.50" stroke="#141414" stroke-width="1.5"/><rect x="631.48" y="516.10" width="5.8" height="5.8" fill="none" stroke="#141414" stroke-width="1.4"/><g fill="#000"><circle cx="632.9" cy="468.2" r="1.0"/><circle cx="626.7" cy="476.2" r="1.0"/><circle cx="626.2" cy="479.6" r="1.0"/><circle cx="629.0" cy="481.7" r="1.0"/><circle cx="631.3" cy="481.7" r="1.0"/><circle cx="629.0" cy="484.0" r="1.0"/><circle cx="630.8" cy="486.0" r="1.0"/><circle cx="633.6" cy="486.6" r="1.0"/><circle cx="642.7" cy="487.5" r="1.0"/><circle cx="629.9" cy="488.1" r="1.0"/><circle cx="631.7" cy="491.2" r="1.0"/><circle cx="634.5" cy="491.8" r="1.0"/><circle cx="635.9" cy="492.3" r="1.0"/><circle cx="637.7" cy="493.2" r="1.0"/><circle cx="626.7" cy="492.3" r="1.0"/><circle cx="628.5" cy="494.1" r="1.0"/><circle cx="625.8" cy="495.2" r="1.0"/><circle cx="637.0" cy="499.4" r="1.0"/><circle cx="643.9" cy="501.6" r="1.0"/><circle cx="624.8" cy="503.1" r="1.0"/><circle cx="628.5" cy="502.4" r="1.0"/><circle cx="634.0" cy="502.4" r="1.0"/><circle cx="639.5" cy="503.5" r="1.0"/><circle cx="630.8" cy="504.7" r="1.0"/><circle cx="625.0" cy="533.2" r="1.0"/><circle cx="626.3" cy="534.2" r="1.0"/><circle cx="629.5" cy="534.5" r="1.0"/><circle cx="632.8" cy="535.1" r="1.0"/><circle cx="636.9" cy="538.6" r="1.0"/><circle cx="626.0" cy="543.6" r="1.0"/><circle cx="629.5" cy="543.3" r="1.0"/><circle cx="638.6" cy="544.2" r="1.0"/><circle cx="641.2" cy="546.8" r="1.0"/><circle cx="629.5" cy="549.4" r="1.0"/><circle cx="631.5" cy="553.7" r="1.0"/><circle cx="628.6" cy="555.0" r="1.0"/><circle cx="637.3" cy="557.2" r="1.0"/><circle cx="628.9" cy="559.8" r="1.0"/><circle cx="642.1" cy="565.6" r="1.0"/><circle cx="628.9" cy="571.1" r="1.0"/><circle cx="640.6" cy="572.1" r="1.0"/><circle cx="643.6" cy="571.1" r="1.0"/><circle cx="642.9" cy="593.6" r="1.0"/><circle cx="624.7" cy="506.0" r="1.0"/><circle cx="626.7" cy="508.0" r="1.0"/><circle cx="630.7" cy="505.0" r="1.0"/><circle cx="630.9" cy="506.5" r="1.0"/><circle cx="633.4" cy="508.0" r="1.0"/><circle cx="632.9" cy="509.0" r="1.0"/><circle cx="638.8" cy="507.5" r="1.0"/><circle cx="638.3" cy="509.5" r="1.0"/><circle cx="640.1" cy="510.4" r="1.0"/><circle cx="640.3" cy="511.2" r="1.0"/><circle cx="643.8" cy="509.5" r="1.0"/><circle cx="626.0" cy="510.7" r="1.0"/><circle cx="626.7" cy="511.7" r="1.0"/><circle cx="628.7" cy="510.7" r="1.0"/><circle cx="629.4" cy="512.4" r="1.0"/><circle cx="626.0" cy="513.7" r="1.0"/><circle cx="633.9" cy="512.9" r="1.0"/><circle cx="637.9" cy="513.7" r="1.0"/><circle cx="638.3" cy="513.2" r="1.0"/><circle cx="642.3" cy="513.4" r="1.0"/><circle cx="642.8" cy="514.9" r="1.0"/><circle cx="629.9" cy="515.9" r="1.0"/><circle cx="632.4" cy="516.2" r="1.0"/><circle cx="624.7" cy="520.1" r="1.0"/><circle cx="625.4" cy="520.6" r="1.0"/><circle cx="627.9" cy="521.9" r="1.0"/><circle cx="627.4" cy="523.1" r="1.0"/><circle cx="635.6" cy="519.9" r="1.0"/><circle cx="638.3" cy="521.9" r="1.0"/><circle cx="638.8" cy="523.3" r="1.0"/><circle cx="641.6" cy="523.1" r="1.0"/><circle cx="625.0" cy="525.8" r="1.0"/><circle cx="632.4" cy="526.3" r="1.0"/><circle cx="634.4" cy="527.3" r="1.0"/><circle cx="636.6" cy="525.6" r="1.0"/><circle cx="637.4" cy="526.8" r="1.0"/><circle cx="640.8" cy="526.3" r="1.0"/><circle cx="642.8" cy="527.3" r="1.0"/><circle cx="627.9" cy="528.6" r="1.0"/><circle cx="630.4" cy="528.1" r="1.0"/><circle cx="631.4" cy="529.8" r="1.0"/><circle cx="634.9" cy="529.6" r="1.0"/><circle cx="639.8" cy="528.6" r="1.0"/><circle cx="643.3" cy="528.6" r="1.0"/><circle cx="639.6" cy="531.0" r="1.0"/></g><rect x="487.60" y="443.00" width="195.70" height="182.40" fill="none" stroke="#141414" stroke-width="1.3"/><line x1="536.52" y1="625.40" x2="536.52" y2="626.80" stroke="#141414" stroke-width="1"/><line x1="634.38" y1="625.40" x2="634.38" y2="626.80" stroke="#141414" stroke-width="1"/><line x1="485.60" y1="625.40" x2="487.60" y2="625.40" stroke="#141414" stroke-width="1"/><text x="486.20" y="630.20" font-size="14" text-anchor="end" textLength="25.30" lengthAdjust="spacing">0.25</text><rect x="452.40" y="625.00" width="8.2" height="1.25" fill="#000"/><line x1="485.60" y1="593.95" x2="487.60" y2="593.95" stroke="#141414" stroke-width="1"/><text x="486.20" y="598.75" font-size="14" text-anchor="end" textLength="25.30" lengthAdjust="spacing">0.00</text><line x1="485.60" y1="562.50" x2="487.60" y2="562.50" stroke="#141414" stroke-width="1"/><text x="486.20" y="567.30" font-size="14" text-anchor="end" textLength="25.30" lengthAdjust="spacing">0.25</text><line x1="485.60" y1="531.06" x2="487.60" y2="531.06" stroke="#141414" stroke-width="1"/><text x="486.20" y="535.86" font-size="14" text-anchor="end" textLength="25.30" lengthAdjust="spacing">0.50</text><line x1="485.60" y1="499.61" x2="487.60" y2="499.61" stroke="#141414" stroke-width="1"/><text x="486.20" y="504.41" font-size="14" text-anchor="end" textLength="25.30" lengthAdjust="spacing">0.75</text><line x1="485.60" y1="468.16" x2="487.60" y2="468.16" stroke="#141414" stroke-width="1"/><text x="486.20" y="472.96" font-size="14" text-anchor="end" textLength="25.30" lengthAdjust="spacing">1.00</text><text x="498.50" y="462.00" font-size="14">(i)</text><text x="536.52" y="650.20" font-size="14" text-anchor="middle" textLength="48.6" lengthAdjust="spacing">TianJin</text><text x="634.38" y="650.20" font-size="14" text-anchor="middle" textLength="45.2" lengthAdjust="spacing">XiNing</text></g>
</svg></body></html>
